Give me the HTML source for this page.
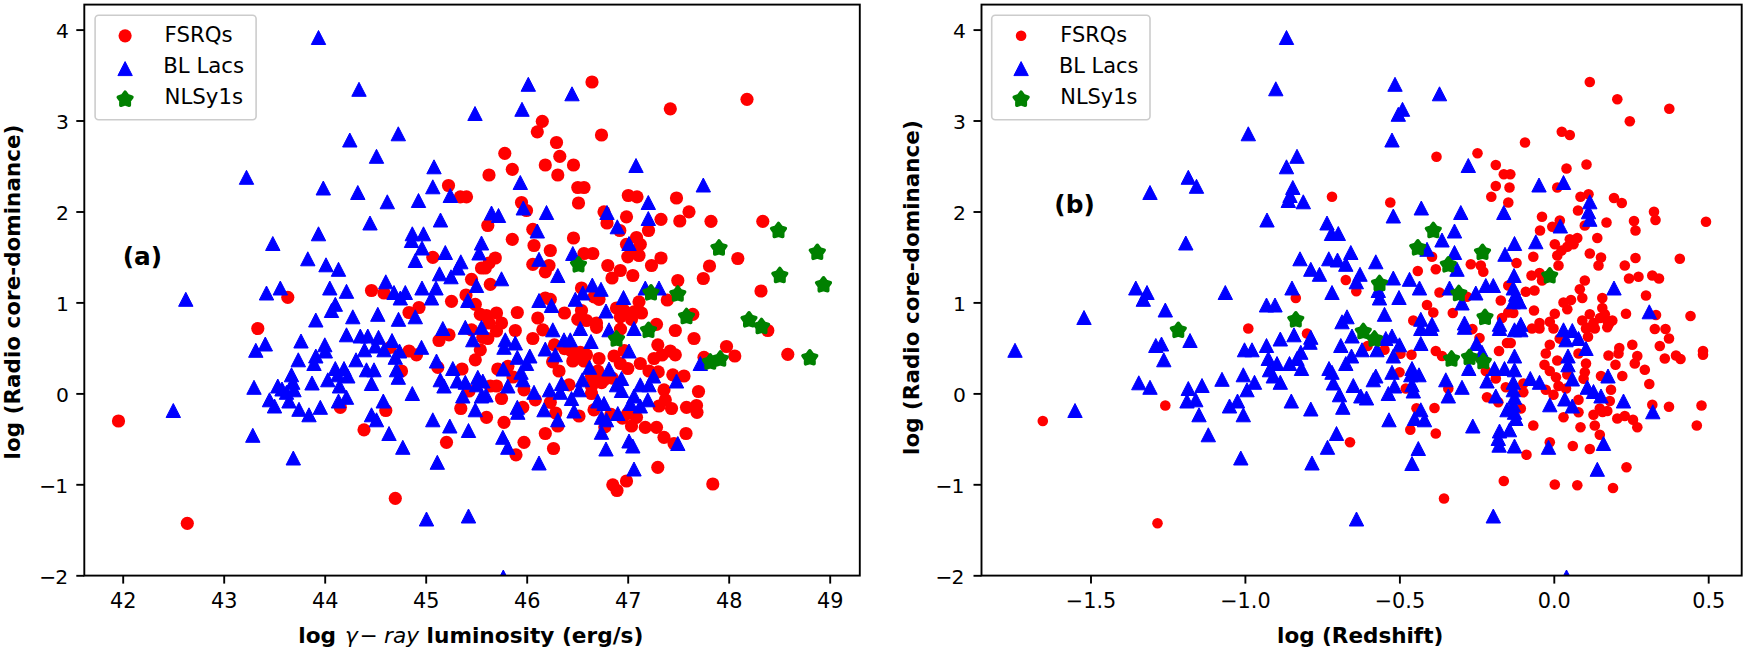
<!DOCTYPE html>
<html lang="en"><head><meta charset="utf-8"><title>Radio core-dominance</title>
<style>html,body{margin:0;padding:0;background:#fff}body{width:1746px;height:652px;overflow:hidden}svg{display:block}text{font-family:'DejaVu Sans','Liberation Sans',sans-serif;fill:#000}</style>
</head><body>
<svg width="1746" height="652" viewBox="0 0 1746 652">
<rect width="1746" height="652" fill="#fff"/>
<clipPath id="ca"><rect x="84.3" y="4.6" width="775.5" height="571.0"/></clipPath>
<g clip-path="url(#ca)">
<circle cx="257.8" cy="328.5" r="6.6" fill="#ff0000"/>
<circle cx="118.5" cy="421.0" r="6.6" fill="#ff0000"/>
<circle cx="187.3" cy="523.3" r="6.6" fill="#ff0000"/>
<circle cx="287.8" cy="297.3" r="6.6" fill="#ff0000"/>
<circle cx="448.5" cy="185.5" r="6.6" fill="#ff0000"/>
<circle cx="460.3" cy="196.8" r="6.6" fill="#ff0000"/>
<circle cx="466.5" cy="196.8" r="6.6" fill="#ff0000"/>
<circle cx="432.8" cy="257.3" r="6.6" fill="#ff0000"/>
<circle cx="481.5" cy="268.0" r="6.6" fill="#ff0000"/>
<circle cx="471.5" cy="279.3" r="6.6" fill="#ff0000"/>
<circle cx="371.5" cy="290.5" r="6.6" fill="#ff0000"/>
<circle cx="384.0" cy="293.0" r="6.6" fill="#ff0000"/>
<circle cx="451.5" cy="301.3" r="6.6" fill="#ff0000"/>
<circle cx="466.0" cy="295.0" r="6.6" fill="#ff0000"/>
<circle cx="475.3" cy="304.3" r="6.6" fill="#ff0000"/>
<circle cx="419.0" cy="307.5" r="6.6" fill="#ff0000"/>
<circle cx="409.0" cy="312.5" r="6.6" fill="#ff0000"/>
<circle cx="480.3" cy="314.3" r="6.6" fill="#ff0000"/>
<circle cx="449.0" cy="334.8" r="6.6" fill="#ff0000"/>
<circle cx="439.0" cy="340.5" r="6.6" fill="#ff0000"/>
<circle cx="471.5" cy="329.8" r="6.6" fill="#ff0000"/>
<circle cx="482.8" cy="337.3" r="6.6" fill="#ff0000"/>
<circle cx="480.3" cy="349.8" r="6.6" fill="#ff0000"/>
<circle cx="475.3" cy="359.8" r="6.6" fill="#ff0000"/>
<circle cx="409.0" cy="351.0" r="6.6" fill="#ff0000"/>
<circle cx="416.5" cy="354.8" r="6.6" fill="#ff0000"/>
<circle cx="390.3" cy="347.3" r="6.6" fill="#ff0000"/>
<circle cx="401.5" cy="371.0" r="6.6" fill="#ff0000"/>
<circle cx="462.0" cy="369.0" r="6.6" fill="#ff0000"/>
<circle cx="437.8" cy="367.3" r="6.6" fill="#ff0000"/>
<circle cx="469.0" cy="391.0" r="6.6" fill="#ff0000"/>
<circle cx="460.8" cy="408.5" r="6.6" fill="#ff0000"/>
<circle cx="340.3" cy="407.3" r="6.6" fill="#ff0000"/>
<circle cx="385.8" cy="410.5" r="6.6" fill="#ff0000"/>
<circle cx="364.0" cy="429.8" r="6.6" fill="#ff0000"/>
<circle cx="446.5" cy="442.3" r="6.6" fill="#ff0000"/>
<circle cx="395.3" cy="498.3" r="6.6" fill="#ff0000"/>
<circle cx="592.0" cy="82.0" r="6.6" fill="#ff0000"/>
<circle cx="670.3" cy="108.8" r="6.6" fill="#ff0000"/>
<circle cx="542.3" cy="121.3" r="6.6" fill="#ff0000"/>
<circle cx="537.3" cy="131.8" r="6.6" fill="#ff0000"/>
<circle cx="601.5" cy="135.0" r="6.6" fill="#ff0000"/>
<circle cx="556.5" cy="142.5" r="6.6" fill="#ff0000"/>
<circle cx="504.8" cy="153.3" r="6.6" fill="#ff0000"/>
<circle cx="559.8" cy="156.3" r="6.6" fill="#ff0000"/>
<circle cx="489.0" cy="175.0" r="6.6" fill="#ff0000"/>
<circle cx="512.3" cy="169.3" r="6.6" fill="#ff0000"/>
<circle cx="545.3" cy="165.0" r="6.6" fill="#ff0000"/>
<circle cx="573.5" cy="165.0" r="6.6" fill="#ff0000"/>
<circle cx="557.8" cy="175.0" r="6.6" fill="#ff0000"/>
<circle cx="577.8" cy="187.5" r="6.6" fill="#ff0000"/>
<circle cx="584.0" cy="187.5" r="6.6" fill="#ff0000"/>
<circle cx="578.5" cy="203.0" r="6.6" fill="#ff0000"/>
<circle cx="521.5" cy="202.5" r="6.6" fill="#ff0000"/>
<circle cx="526.5" cy="210.5" r="6.6" fill="#ff0000"/>
<circle cx="628.3" cy="195.5" r="6.6" fill="#ff0000"/>
<circle cx="637.0" cy="196.8" r="6.6" fill="#ff0000"/>
<circle cx="676.5" cy="198.0" r="6.6" fill="#ff0000"/>
<circle cx="604.0" cy="211.8" r="6.6" fill="#ff0000"/>
<circle cx="626.5" cy="216.8" r="6.6" fill="#ff0000"/>
<circle cx="607.0" cy="223.0" r="6.6" fill="#ff0000"/>
<circle cx="661.0" cy="219.3" r="6.6" fill="#ff0000"/>
<circle cx="679.8" cy="221.0" r="6.6" fill="#ff0000"/>
<circle cx="648.5" cy="230.5" r="6.6" fill="#ff0000"/>
<circle cx="619.8" cy="230.5" r="6.6" fill="#ff0000"/>
<circle cx="487.8" cy="225.5" r="6.6" fill="#ff0000"/>
<circle cx="532.8" cy="229.3" r="6.6" fill="#ff0000"/>
<circle cx="512.3" cy="239.3" r="6.6" fill="#ff0000"/>
<circle cx="573.5" cy="238.0" r="6.6" fill="#ff0000"/>
<circle cx="636.5" cy="237.5" r="6.6" fill="#ff0000"/>
<circle cx="640.3" cy="244.3" r="6.6" fill="#ff0000"/>
<circle cx="626.5" cy="244.3" r="6.6" fill="#ff0000"/>
<circle cx="534.0" cy="245.5" r="6.6" fill="#ff0000"/>
<circle cx="550.3" cy="250.5" r="6.6" fill="#ff0000"/>
<circle cx="636.5" cy="250.5" r="6.6" fill="#ff0000"/>
<circle cx="584.0" cy="253.5" r="6.6" fill="#ff0000"/>
<circle cx="592.8" cy="253.5" r="6.6" fill="#ff0000"/>
<circle cx="627.8" cy="256.8" r="6.6" fill="#ff0000"/>
<circle cx="639.0" cy="255.5" r="6.6" fill="#ff0000"/>
<circle cx="661.0" cy="258.0" r="6.6" fill="#ff0000"/>
<circle cx="495.3" cy="258.0" r="6.6" fill="#ff0000"/>
<circle cx="489.0" cy="263.0" r="6.6" fill="#ff0000"/>
<circle cx="485.3" cy="268.0" r="6.6" fill="#ff0000"/>
<circle cx="532.8" cy="264.3" r="6.6" fill="#ff0000"/>
<circle cx="549.0" cy="265.5" r="6.6" fill="#ff0000"/>
<circle cx="545.3" cy="271.8" r="6.6" fill="#ff0000"/>
<circle cx="651.5" cy="265.5" r="6.6" fill="#ff0000"/>
<circle cx="607.8" cy="265.5" r="6.6" fill="#ff0000"/>
<circle cx="620.3" cy="270.5" r="6.6" fill="#ff0000"/>
<circle cx="612.0" cy="278.0" r="6.6" fill="#ff0000"/>
<circle cx="632.8" cy="275.5" r="6.6" fill="#ff0000"/>
<circle cx="677.8" cy="280.5" r="6.6" fill="#ff0000"/>
<circle cx="490.3" cy="284.3" r="6.6" fill="#ff0000"/>
<circle cx="581.5" cy="288.0" r="6.6" fill="#ff0000"/>
<circle cx="594.0" cy="296.8" r="6.6" fill="#ff0000"/>
<circle cx="599.0" cy="299.3" r="6.6" fill="#ff0000"/>
<circle cx="545.3" cy="298.0" r="6.6" fill="#ff0000"/>
<circle cx="550.3" cy="299.3" r="6.6" fill="#ff0000"/>
<circle cx="639.0" cy="301.8" r="6.6" fill="#ff0000"/>
<circle cx="667.3" cy="300.0" r="6.6" fill="#ff0000"/>
<circle cx="616.5" cy="308.0" r="6.6" fill="#ff0000"/>
<circle cx="624.0" cy="310.5" r="6.6" fill="#ff0000"/>
<circle cx="634.0" cy="311.8" r="6.6" fill="#ff0000"/>
<circle cx="641.5" cy="313.0" r="6.6" fill="#ff0000"/>
<circle cx="620.3" cy="316.8" r="6.6" fill="#ff0000"/>
<circle cx="631.5" cy="319.3" r="6.6" fill="#ff0000"/>
<circle cx="496.5" cy="313.0" r="6.6" fill="#ff0000"/>
<circle cx="517.3" cy="312.5" r="6.6" fill="#ff0000"/>
<circle cx="486.5" cy="315.5" r="6.6" fill="#ff0000"/>
<circle cx="537.8" cy="318.0" r="6.6" fill="#ff0000"/>
<circle cx="564.5" cy="313.0" r="6.6" fill="#ff0000"/>
<circle cx="581.5" cy="310.5" r="6.6" fill="#ff0000"/>
<circle cx="577.8" cy="319.3" r="6.6" fill="#ff0000"/>
<circle cx="586.5" cy="320.5" r="6.6" fill="#ff0000"/>
<circle cx="596.5" cy="323.0" r="6.6" fill="#ff0000"/>
<circle cx="501.5" cy="323.0" r="6.6" fill="#ff0000"/>
<circle cx="489.0" cy="323.0" r="6.6" fill="#ff0000"/>
<circle cx="656.5" cy="324.3" r="6.6" fill="#ff0000"/>
<circle cx="487.8" cy="338.5" r="6.6" fill="#ff0000"/>
<circle cx="496.5" cy="331.0" r="6.6" fill="#ff0000"/>
<circle cx="515.3" cy="330.5" r="6.6" fill="#ff0000"/>
<circle cx="532.8" cy="338.5" r="6.6" fill="#ff0000"/>
<circle cx="542.8" cy="329.8" r="6.6" fill="#ff0000"/>
<circle cx="596.5" cy="327.3" r="6.6" fill="#ff0000"/>
<circle cx="675.3" cy="330.5" r="6.6" fill="#ff0000"/>
<circle cx="657.8" cy="344.8" r="6.6" fill="#ff0000"/>
<circle cx="670.3" cy="351.0" r="6.6" fill="#ff0000"/>
<circle cx="675.3" cy="354.8" r="6.6" fill="#ff0000"/>
<circle cx="654.0" cy="358.5" r="6.6" fill="#ff0000"/>
<circle cx="640.3" cy="363.5" r="6.6" fill="#ff0000"/>
<circle cx="614.0" cy="356.0" r="6.6" fill="#ff0000"/>
<circle cx="620.3" cy="363.5" r="6.6" fill="#ff0000"/>
<circle cx="627.8" cy="368.5" r="6.6" fill="#ff0000"/>
<circle cx="599.0" cy="358.5" r="6.6" fill="#ff0000"/>
<circle cx="571.5" cy="351.0" r="6.6" fill="#ff0000"/>
<circle cx="580.3" cy="352.3" r="6.6" fill="#ff0000"/>
<circle cx="586.5" cy="354.8" r="6.6" fill="#ff0000"/>
<circle cx="572.8" cy="361.0" r="6.6" fill="#ff0000"/>
<circle cx="584.0" cy="361.0" r="6.6" fill="#ff0000"/>
<circle cx="559.0" cy="371.0" r="6.6" fill="#ff0000"/>
<circle cx="497.8" cy="369.0" r="6.6" fill="#ff0000"/>
<circle cx="649.0" cy="371.0" r="6.6" fill="#ff0000"/>
<circle cx="672.8" cy="374.8" r="6.6" fill="#ff0000"/>
<circle cx="597.8" cy="371.0" r="6.6" fill="#ff0000"/>
<circle cx="596.5" cy="379.8" r="6.6" fill="#ff0000"/>
<circle cx="604.0" cy="379.8" r="6.6" fill="#ff0000"/>
<circle cx="591.5" cy="386.0" r="6.6" fill="#ff0000"/>
<circle cx="569.0" cy="384.8" r="6.6" fill="#ff0000"/>
<circle cx="496.5" cy="386.0" r="6.6" fill="#ff0000"/>
<circle cx="490.3" cy="386.0" r="6.6" fill="#ff0000"/>
<circle cx="524.0" cy="389.8" r="6.6" fill="#ff0000"/>
<circle cx="501.5" cy="398.5" r="6.6" fill="#ff0000"/>
<circle cx="591.5" cy="393.5" r="6.6" fill="#ff0000"/>
<circle cx="664.0" cy="389.8" r="6.6" fill="#ff0000"/>
<circle cx="665.3" cy="399.8" r="6.6" fill="#ff0000"/>
<circle cx="659.0" cy="406.0" r="6.6" fill="#ff0000"/>
<circle cx="671.5" cy="408.5" r="6.6" fill="#ff0000"/>
<circle cx="535.3" cy="399.8" r="6.6" fill="#ff0000"/>
<circle cx="550.3" cy="402.3" r="6.6" fill="#ff0000"/>
<circle cx="522.8" cy="407.3" r="6.6" fill="#ff0000"/>
<circle cx="486.5" cy="417.3" r="6.6" fill="#ff0000"/>
<circle cx="504.0" cy="422.3" r="6.6" fill="#ff0000"/>
<circle cx="579.0" cy="416.0" r="6.6" fill="#ff0000"/>
<circle cx="594.0" cy="409.8" r="6.6" fill="#ff0000"/>
<circle cx="627.8" cy="413.5" r="6.6" fill="#ff0000"/>
<circle cx="636.5" cy="417.3" r="6.6" fill="#ff0000"/>
<circle cx="631.5" cy="426.0" r="6.6" fill="#ff0000"/>
<circle cx="645.3" cy="427.3" r="6.6" fill="#ff0000"/>
<circle cx="656.5" cy="427.3" r="6.6" fill="#ff0000"/>
<circle cx="664.0" cy="437.3" r="6.6" fill="#ff0000"/>
<circle cx="674.0" cy="443.5" r="6.6" fill="#ff0000"/>
<circle cx="557.8" cy="426.0" r="6.6" fill="#ff0000"/>
<circle cx="545.3" cy="433.5" r="6.6" fill="#ff0000"/>
<circle cx="524.0" cy="442.3" r="6.6" fill="#ff0000"/>
<circle cx="553.5" cy="448.5" r="6.6" fill="#ff0000"/>
<circle cx="516.0" cy="454.8" r="6.6" fill="#ff0000"/>
<circle cx="657.8" cy="467.3" r="6.6" fill="#ff0000"/>
<circle cx="626.5" cy="481.0" r="6.6" fill="#ff0000"/>
<circle cx="612.8" cy="484.8" r="6.6" fill="#ff0000"/>
<circle cx="617.0" cy="490.5" r="6.6" fill="#ff0000"/>
<circle cx="747.0" cy="99.3" r="6.6" fill="#ff0000"/>
<circle cx="689.0" cy="211.8" r="6.6" fill="#ff0000"/>
<circle cx="711.0" cy="221.3" r="6.6" fill="#ff0000"/>
<circle cx="762.8" cy="221.3" r="6.6" fill="#ff0000"/>
<circle cx="737.8" cy="258.5" r="6.6" fill="#ff0000"/>
<circle cx="709.5" cy="266.0" r="6.6" fill="#ff0000"/>
<circle cx="703.3" cy="278.5" r="6.6" fill="#ff0000"/>
<circle cx="761.0" cy="291.0" r="6.6" fill="#ff0000"/>
<circle cx="692.8" cy="314.3" r="6.6" fill="#ff0000"/>
<circle cx="694.0" cy="338.5" r="6.6" fill="#ff0000"/>
<circle cx="726.5" cy="346.5" r="6.6" fill="#ff0000"/>
<circle cx="734.8" cy="356.0" r="6.6" fill="#ff0000"/>
<circle cx="767.8" cy="330.5" r="6.6" fill="#ff0000"/>
<circle cx="787.8" cy="354.3" r="6.6" fill="#ff0000"/>
<circle cx="704.0" cy="357.3" r="6.6" fill="#ff0000"/>
<circle cx="684.0" cy="376.0" r="6.6" fill="#ff0000"/>
<circle cx="698.5" cy="391.5" r="6.6" fill="#ff0000"/>
<circle cx="696.5" cy="405.5" r="6.6" fill="#ff0000"/>
<circle cx="697.0" cy="412.3" r="6.6" fill="#ff0000"/>
<circle cx="686.5" cy="407.3" r="6.6" fill="#ff0000"/>
<circle cx="686.0" cy="433.5" r="6.6" fill="#ff0000"/>
<circle cx="712.8" cy="484.0" r="6.6" fill="#ff0000"/>
<circle cx="554.4" cy="344.9" r="6.6" fill="#ff0000"/>
<circle cx="564.5" cy="348.6" r="6.6" fill="#ff0000"/>
<circle cx="507.9" cy="366.3" r="6.6" fill="#ff0000"/>
<circle cx="552.6" cy="361.8" r="6.6" fill="#ff0000"/>
<circle cx="513.0" cy="377.0" r="6.6" fill="#ff0000"/>
<circle cx="620.5" cy="329.1" r="6.6" fill="#ff0000"/>
<circle cx="624.3" cy="350.5" r="6.6" fill="#ff0000"/>
<circle cx="662.0" cy="355.0" r="6.6" fill="#ff0000"/>
<circle cx="658.2" cy="371.9" r="6.6" fill="#ff0000"/>
<circle cx="601.6" cy="382.6" r="6.6" fill="#ff0000"/>
<circle cx="591.5" cy="376.3" r="6.6" fill="#ff0000"/>
<circle cx="612.3" cy="378.2" r="6.6" fill="#ff0000"/>
<circle cx="555.7" cy="413.0" r="6.6" fill="#ff0000"/>
<circle cx="604.8" cy="426.9" r="6.6" fill="#ff0000"/>
<circle cx="622.4" cy="418.1" r="6.6" fill="#ff0000"/>
<circle cx="611.0" cy="414.3" r="6.6" fill="#ff0000"/>
<path d="M318.5 30.5L325.7 44.5L311.3 44.5Z" fill="#0000ff" stroke="#0000ff" stroke-width="1" stroke-linejoin="round"/>
<path d="M359.0 82.3L366.2 96.3L351.8 96.3Z" fill="#0000ff" stroke="#0000ff" stroke-width="1" stroke-linejoin="round"/>
<path d="M475.0 106.5L482.2 120.5L467.8 120.5Z" fill="#0000ff" stroke="#0000ff" stroke-width="1" stroke-linejoin="round"/>
<path d="M398.3 126.8L405.5 140.8L391.1 140.8Z" fill="#0000ff" stroke="#0000ff" stroke-width="1" stroke-linejoin="round"/>
<path d="M349.8 133.0L357.0 147.0L342.6 147.0Z" fill="#0000ff" stroke="#0000ff" stroke-width="1" stroke-linejoin="round"/>
<path d="M376.5 149.3L383.7 163.3L369.3 163.3Z" fill="#0000ff" stroke="#0000ff" stroke-width="1" stroke-linejoin="round"/>
<path d="M246.5 170.3L253.7 184.3L239.3 184.3Z" fill="#0000ff" stroke="#0000ff" stroke-width="1" stroke-linejoin="round"/>
<path d="M272.8 236.5L280.0 250.5L265.6 250.5Z" fill="#0000ff" stroke="#0000ff" stroke-width="1" stroke-linejoin="round"/>
<path d="M185.8 292.3L193.0 306.3L178.6 306.3Z" fill="#0000ff" stroke="#0000ff" stroke-width="1" stroke-linejoin="round"/>
<path d="M266.5 286.0L273.7 300.0L259.3 300.0Z" fill="#0000ff" stroke="#0000ff" stroke-width="1" stroke-linejoin="round"/>
<path d="M280.3 281.0L287.5 295.0L273.1 295.0Z" fill="#0000ff" stroke="#0000ff" stroke-width="1" stroke-linejoin="round"/>
<path d="M265.3 337.0L272.5 351.0L258.1 351.0Z" fill="#0000ff" stroke="#0000ff" stroke-width="1" stroke-linejoin="round"/>
<path d="M255.8 343.3L263.0 357.3L248.6 357.3Z" fill="#0000ff" stroke="#0000ff" stroke-width="1" stroke-linejoin="round"/>
<path d="M254.0 380.3L261.2 394.3L246.8 394.3Z" fill="#0000ff" stroke="#0000ff" stroke-width="1" stroke-linejoin="round"/>
<path d="M277.8 379.0L285.0 393.0L270.6 393.0Z" fill="#0000ff" stroke="#0000ff" stroke-width="1" stroke-linejoin="round"/>
<path d="M282.0 382.0L289.2 396.0L274.8 396.0Z" fill="#0000ff" stroke="#0000ff" stroke-width="1" stroke-linejoin="round"/>
<path d="M269.5 392.8L276.7 406.8L262.3 406.8Z" fill="#0000ff" stroke="#0000ff" stroke-width="1" stroke-linejoin="round"/>
<path d="M274.5 399.0L281.7 413.0L267.3 413.0Z" fill="#0000ff" stroke="#0000ff" stroke-width="1" stroke-linejoin="round"/>
<path d="M173.3 403.5L180.5 417.5L166.1 417.5Z" fill="#0000ff" stroke="#0000ff" stroke-width="1" stroke-linejoin="round"/>
<path d="M252.8 428.3L260.0 442.3L245.6 442.3Z" fill="#0000ff" stroke="#0000ff" stroke-width="1" stroke-linejoin="round"/>
<path d="M434.0 159.8L441.2 173.8L426.8 173.8Z" fill="#0000ff" stroke="#0000ff" stroke-width="1" stroke-linejoin="round"/>
<path d="M323.3 181.0L330.5 195.0L316.1 195.0Z" fill="#0000ff" stroke="#0000ff" stroke-width="1" stroke-linejoin="round"/>
<path d="M357.8 185.5L365.0 199.5L350.6 199.5Z" fill="#0000ff" stroke="#0000ff" stroke-width="1" stroke-linejoin="round"/>
<path d="M432.8 179.8L440.0 193.8L425.6 193.8Z" fill="#0000ff" stroke="#0000ff" stroke-width="1" stroke-linejoin="round"/>
<path d="M387.3 194.8L394.5 208.8L380.1 208.8Z" fill="#0000ff" stroke="#0000ff" stroke-width="1" stroke-linejoin="round"/>
<path d="M418.5 193.5L425.7 207.5L411.3 207.5Z" fill="#0000ff" stroke="#0000ff" stroke-width="1" stroke-linejoin="round"/>
<path d="M450.3 188.5L457.5 202.5L443.1 202.5Z" fill="#0000ff" stroke="#0000ff" stroke-width="1" stroke-linejoin="round"/>
<path d="M370.0 216.0L377.2 230.0L362.8 230.0Z" fill="#0000ff" stroke="#0000ff" stroke-width="1" stroke-linejoin="round"/>
<path d="M440.5 213.0L447.7 227.0L433.3 227.0Z" fill="#0000ff" stroke="#0000ff" stroke-width="1" stroke-linejoin="round"/>
<path d="M318.5 226.8L325.7 240.8L311.3 240.8Z" fill="#0000ff" stroke="#0000ff" stroke-width="1" stroke-linejoin="round"/>
<path d="M412.3 226.8L419.5 240.8L405.1 240.8Z" fill="#0000ff" stroke="#0000ff" stroke-width="1" stroke-linejoin="round"/>
<path d="M423.5 226.8L430.7 240.8L416.3 240.8Z" fill="#0000ff" stroke="#0000ff" stroke-width="1" stroke-linejoin="round"/>
<path d="M411.5 233.5L418.7 247.5L404.3 247.5Z" fill="#0000ff" stroke="#0000ff" stroke-width="1" stroke-linejoin="round"/>
<path d="M422.0 241.0L429.2 255.0L414.8 255.0Z" fill="#0000ff" stroke="#0000ff" stroke-width="1" stroke-linejoin="round"/>
<path d="M445.3 245.5L452.5 259.5L438.1 259.5Z" fill="#0000ff" stroke="#0000ff" stroke-width="1" stroke-linejoin="round"/>
<path d="M307.8 251.8L315.0 265.8L300.6 265.8Z" fill="#0000ff" stroke="#0000ff" stroke-width="1" stroke-linejoin="round"/>
<path d="M415.3 253.5L422.5 267.5L408.1 267.5Z" fill="#0000ff" stroke="#0000ff" stroke-width="1" stroke-linejoin="round"/>
<path d="M326.0 257.8L333.2 271.8L318.8 271.8Z" fill="#0000ff" stroke="#0000ff" stroke-width="1" stroke-linejoin="round"/>
<path d="M338.5 262.3L345.7 276.3L331.3 276.3Z" fill="#0000ff" stroke="#0000ff" stroke-width="1" stroke-linejoin="round"/>
<path d="M460.8 254.8L468.0 268.8L453.6 268.8Z" fill="#0000ff" stroke="#0000ff" stroke-width="1" stroke-linejoin="round"/>
<path d="M457.8 261.0L465.0 275.0L450.6 275.0Z" fill="#0000ff" stroke="#0000ff" stroke-width="1" stroke-linejoin="round"/>
<path d="M439.5 266.8L446.7 280.8L432.3 280.8Z" fill="#0000ff" stroke="#0000ff" stroke-width="1" stroke-linejoin="round"/>
<path d="M451.0 269.8L458.2 283.8L443.8 283.8Z" fill="#0000ff" stroke="#0000ff" stroke-width="1" stroke-linejoin="round"/>
<path d="M481.5 236.0L488.7 250.0L474.3 250.0Z" fill="#0000ff" stroke="#0000ff" stroke-width="1" stroke-linejoin="round"/>
<path d="M479.0 246.0L486.2 260.0L471.8 260.0Z" fill="#0000ff" stroke="#0000ff" stroke-width="1" stroke-linejoin="round"/>
<path d="M385.8 274.8L393.0 288.8L378.6 288.8Z" fill="#0000ff" stroke="#0000ff" stroke-width="1" stroke-linejoin="round"/>
<path d="M329.8 281.0L337.0 295.0L322.6 295.0Z" fill="#0000ff" stroke="#0000ff" stroke-width="1" stroke-linejoin="round"/>
<path d="M346.5 284.3L353.7 298.3L339.3 298.3Z" fill="#0000ff" stroke="#0000ff" stroke-width="1" stroke-linejoin="round"/>
<path d="M422.0 281.0L429.2 295.0L414.8 295.0Z" fill="#0000ff" stroke="#0000ff" stroke-width="1" stroke-linejoin="round"/>
<path d="M436.0 281.0L443.2 295.0L428.8 295.0Z" fill="#0000ff" stroke="#0000ff" stroke-width="1" stroke-linejoin="round"/>
<path d="M394.0 285.5L401.2 299.5L386.8 299.5Z" fill="#0000ff" stroke="#0000ff" stroke-width="1" stroke-linejoin="round"/>
<path d="M405.3 285.5L412.5 299.5L398.1 299.5Z" fill="#0000ff" stroke="#0000ff" stroke-width="1" stroke-linejoin="round"/>
<path d="M400.3 291.0L407.5 305.0L393.1 305.0Z" fill="#0000ff" stroke="#0000ff" stroke-width="1" stroke-linejoin="round"/>
<path d="M431.5 291.0L438.7 305.0L424.3 305.0Z" fill="#0000ff" stroke="#0000ff" stroke-width="1" stroke-linejoin="round"/>
<path d="M476.5 278.5L483.7 292.5L469.3 292.5Z" fill="#0000ff" stroke="#0000ff" stroke-width="1" stroke-linejoin="round"/>
<path d="M467.8 293.5L475.0 307.5L460.6 307.5Z" fill="#0000ff" stroke="#0000ff" stroke-width="1" stroke-linejoin="round"/>
<path d="M335.3 297.3L342.5 311.3L328.1 311.3Z" fill="#0000ff" stroke="#0000ff" stroke-width="1" stroke-linejoin="round"/>
<path d="M331.5 303.5L338.7 317.5L324.3 317.5Z" fill="#0000ff" stroke="#0000ff" stroke-width="1" stroke-linejoin="round"/>
<path d="M352.8 309.8L360.0 323.8L345.6 323.8Z" fill="#0000ff" stroke="#0000ff" stroke-width="1" stroke-linejoin="round"/>
<path d="M377.8 307.3L385.0 321.3L370.6 321.3Z" fill="#0000ff" stroke="#0000ff" stroke-width="1" stroke-linejoin="round"/>
<path d="M315.8 313.0L323.0 327.0L308.6 327.0Z" fill="#0000ff" stroke="#0000ff" stroke-width="1" stroke-linejoin="round"/>
<path d="M398.5 312.3L405.7 326.3L391.3 326.3Z" fill="#0000ff" stroke="#0000ff" stroke-width="1" stroke-linejoin="round"/>
<path d="M415.3 309.8L422.5 323.8L408.1 323.8Z" fill="#0000ff" stroke="#0000ff" stroke-width="1" stroke-linejoin="round"/>
<path d="M301.0 334.0L308.2 348.0L293.8 348.0Z" fill="#0000ff" stroke="#0000ff" stroke-width="1" stroke-linejoin="round"/>
<path d="M346.5 327.8L353.7 341.8L339.3 341.8Z" fill="#0000ff" stroke="#0000ff" stroke-width="1" stroke-linejoin="round"/>
<path d="M360.3 329.0L367.5 343.0L353.1 343.0Z" fill="#0000ff" stroke="#0000ff" stroke-width="1" stroke-linejoin="round"/>
<path d="M367.8 329.0L375.0 343.0L360.6 343.0Z" fill="#0000ff" stroke="#0000ff" stroke-width="1" stroke-linejoin="round"/>
<path d="M378.5 330.3L385.7 344.3L371.3 344.3Z" fill="#0000ff" stroke="#0000ff" stroke-width="1" stroke-linejoin="round"/>
<path d="M392.0 333.5L399.2 347.5L384.8 347.5Z" fill="#0000ff" stroke="#0000ff" stroke-width="1" stroke-linejoin="round"/>
<path d="M442.8 321.5L450.0 335.5L435.6 335.5Z" fill="#0000ff" stroke="#0000ff" stroke-width="1" stroke-linejoin="round"/>
<path d="M465.3 320.3L472.5 334.3L458.1 334.3Z" fill="#0000ff" stroke="#0000ff" stroke-width="1" stroke-linejoin="round"/>
<path d="M481.5 320.3L488.7 334.3L474.3 334.3Z" fill="#0000ff" stroke="#0000ff" stroke-width="1" stroke-linejoin="round"/>
<path d="M472.8 332.8L480.0 346.8L465.6 346.8Z" fill="#0000ff" stroke="#0000ff" stroke-width="1" stroke-linejoin="round"/>
<path d="M421.5 340.3L428.7 354.3L414.3 354.3Z" fill="#0000ff" stroke="#0000ff" stroke-width="1" stroke-linejoin="round"/>
<path d="M324.8 337.8L332.0 351.8L317.6 351.8Z" fill="#0000ff" stroke="#0000ff" stroke-width="1" stroke-linejoin="round"/>
<path d="M325.3 344.0L332.5 358.0L318.1 358.0Z" fill="#0000ff" stroke="#0000ff" stroke-width="1" stroke-linejoin="round"/>
<path d="M364.5 342.8L371.7 356.8L357.3 356.8Z" fill="#0000ff" stroke="#0000ff" stroke-width="1" stroke-linejoin="round"/>
<path d="M375.3 339.0L382.5 353.0L368.1 353.0Z" fill="#0000ff" stroke="#0000ff" stroke-width="1" stroke-linejoin="round"/>
<path d="M384.0 342.8L391.2 356.8L376.8 356.8Z" fill="#0000ff" stroke="#0000ff" stroke-width="1" stroke-linejoin="round"/>
<path d="M399.5 344.0L406.7 358.0L392.3 358.0Z" fill="#0000ff" stroke="#0000ff" stroke-width="1" stroke-linejoin="round"/>
<path d="M395.3 350.3L402.5 364.3L388.1 364.3Z" fill="#0000ff" stroke="#0000ff" stroke-width="1" stroke-linejoin="round"/>
<path d="M315.8 349.0L323.0 363.0L308.6 363.0Z" fill="#0000ff" stroke="#0000ff" stroke-width="1" stroke-linejoin="round"/>
<path d="M314.0 356.5L321.2 370.5L306.8 370.5Z" fill="#0000ff" stroke="#0000ff" stroke-width="1" stroke-linejoin="round"/>
<path d="M298.3 352.8L305.5 366.8L291.1 366.8Z" fill="#0000ff" stroke="#0000ff" stroke-width="1" stroke-linejoin="round"/>
<path d="M356.0 352.8L363.2 366.8L348.8 366.8Z" fill="#0000ff" stroke="#0000ff" stroke-width="1" stroke-linejoin="round"/>
<path d="M436.5 354.0L443.7 368.0L429.3 368.0Z" fill="#0000ff" stroke="#0000ff" stroke-width="1" stroke-linejoin="round"/>
<path d="M291.5 367.8L298.7 381.8L284.3 381.8Z" fill="#0000ff" stroke="#0000ff" stroke-width="1" stroke-linejoin="round"/>
<path d="M292.8 375.3L300.0 389.3L285.6 389.3Z" fill="#0000ff" stroke="#0000ff" stroke-width="1" stroke-linejoin="round"/>
<path d="M294.0 382.8L301.2 396.8L286.8 396.8Z" fill="#0000ff" stroke="#0000ff" stroke-width="1" stroke-linejoin="round"/>
<path d="M286.5 385.3L293.7 399.3L279.3 399.3Z" fill="#0000ff" stroke="#0000ff" stroke-width="1" stroke-linejoin="round"/>
<path d="M289.0 394.0L296.2 408.0L281.8 408.0Z" fill="#0000ff" stroke="#0000ff" stroke-width="1" stroke-linejoin="round"/>
<path d="M312.0 376.0L319.2 390.0L304.8 390.0Z" fill="#0000ff" stroke="#0000ff" stroke-width="1" stroke-linejoin="round"/>
<path d="M327.8 372.8L335.0 386.8L320.6 386.8Z" fill="#0000ff" stroke="#0000ff" stroke-width="1" stroke-linejoin="round"/>
<path d="M335.3 361.5L342.5 375.5L328.1 375.5Z" fill="#0000ff" stroke="#0000ff" stroke-width="1" stroke-linejoin="round"/>
<path d="M344.0 361.5L351.2 375.5L336.8 375.5Z" fill="#0000ff" stroke="#0000ff" stroke-width="1" stroke-linejoin="round"/>
<path d="M337.8 367.8L345.0 381.8L330.6 381.8Z" fill="#0000ff" stroke="#0000ff" stroke-width="1" stroke-linejoin="round"/>
<path d="M347.8 369.0L355.0 383.0L340.6 383.0Z" fill="#0000ff" stroke="#0000ff" stroke-width="1" stroke-linejoin="round"/>
<path d="M339.5 379.0L346.7 393.0L332.3 393.0Z" fill="#0000ff" stroke="#0000ff" stroke-width="1" stroke-linejoin="round"/>
<path d="M366.5 362.8L373.7 376.8L359.3 376.8Z" fill="#0000ff" stroke="#0000ff" stroke-width="1" stroke-linejoin="round"/>
<path d="M374.0 362.8L381.2 376.8L366.8 376.8Z" fill="#0000ff" stroke="#0000ff" stroke-width="1" stroke-linejoin="round"/>
<path d="M371.5 376.5L378.7 390.5L364.3 390.5Z" fill="#0000ff" stroke="#0000ff" stroke-width="1" stroke-linejoin="round"/>
<path d="M396.5 362.8L403.7 376.8L389.3 376.8Z" fill="#0000ff" stroke="#0000ff" stroke-width="1" stroke-linejoin="round"/>
<path d="M398.3 370.3L405.5 384.3L391.1 384.3Z" fill="#0000ff" stroke="#0000ff" stroke-width="1" stroke-linejoin="round"/>
<path d="M452.8 361.5L460.0 375.5L445.6 375.5Z" fill="#0000ff" stroke="#0000ff" stroke-width="1" stroke-linejoin="round"/>
<path d="M440.3 372.8L447.5 386.8L433.1 386.8Z" fill="#0000ff" stroke="#0000ff" stroke-width="1" stroke-linejoin="round"/>
<path d="M444.0 379.0L451.2 393.0L436.8 393.0Z" fill="#0000ff" stroke="#0000ff" stroke-width="1" stroke-linejoin="round"/>
<path d="M457.3 374.0L464.5 388.0L450.1 388.0Z" fill="#0000ff" stroke="#0000ff" stroke-width="1" stroke-linejoin="round"/>
<path d="M465.3 375.3L472.5 389.3L458.1 389.3Z" fill="#0000ff" stroke="#0000ff" stroke-width="1" stroke-linejoin="round"/>
<path d="M477.8 370.3L485.0 384.3L470.6 384.3Z" fill="#0000ff" stroke="#0000ff" stroke-width="1" stroke-linejoin="round"/>
<path d="M476.5 377.8L483.7 391.8L469.3 391.8Z" fill="#0000ff" stroke="#0000ff" stroke-width="1" stroke-linejoin="round"/>
<path d="M482.8 374.0L490.0 388.0L475.6 388.0Z" fill="#0000ff" stroke="#0000ff" stroke-width="1" stroke-linejoin="round"/>
<path d="M412.3 386.5L419.5 400.5L405.1 400.5Z" fill="#0000ff" stroke="#0000ff" stroke-width="1" stroke-linejoin="round"/>
<path d="M462.8 389.0L470.0 403.0L455.6 403.0Z" fill="#0000ff" stroke="#0000ff" stroke-width="1" stroke-linejoin="round"/>
<path d="M481.5 389.0L488.7 403.0L474.3 403.0Z" fill="#0000ff" stroke="#0000ff" stroke-width="1" stroke-linejoin="round"/>
<path d="M346.5 390.3L353.7 404.3L339.3 404.3Z" fill="#0000ff" stroke="#0000ff" stroke-width="1" stroke-linejoin="round"/>
<path d="M338.5 394.0L345.7 408.0L331.3 408.0Z" fill="#0000ff" stroke="#0000ff" stroke-width="1" stroke-linejoin="round"/>
<path d="M383.3 394.0L390.5 408.0L376.1 408.0Z" fill="#0000ff" stroke="#0000ff" stroke-width="1" stroke-linejoin="round"/>
<path d="M320.3 400.3L327.5 414.3L313.1 414.3Z" fill="#0000ff" stroke="#0000ff" stroke-width="1" stroke-linejoin="round"/>
<path d="M299.0 402.3L306.2 416.3L291.8 416.3Z" fill="#0000ff" stroke="#0000ff" stroke-width="1" stroke-linejoin="round"/>
<path d="M309.0 407.8L316.2 421.8L301.8 421.8Z" fill="#0000ff" stroke="#0000ff" stroke-width="1" stroke-linejoin="round"/>
<path d="M371.5 407.8L378.7 421.8L364.3 421.8Z" fill="#0000ff" stroke="#0000ff" stroke-width="1" stroke-linejoin="round"/>
<path d="M376.5 412.8L383.7 426.8L369.3 426.8Z" fill="#0000ff" stroke="#0000ff" stroke-width="1" stroke-linejoin="round"/>
<path d="M475.3 402.8L482.5 416.8L468.1 416.8Z" fill="#0000ff" stroke="#0000ff" stroke-width="1" stroke-linejoin="round"/>
<path d="M432.8 412.8L440.0 426.8L425.6 426.8Z" fill="#0000ff" stroke="#0000ff" stroke-width="1" stroke-linejoin="round"/>
<path d="M449.8 419.0L457.0 433.0L442.6 433.0Z" fill="#0000ff" stroke="#0000ff" stroke-width="1" stroke-linejoin="round"/>
<path d="M468.5 423.5L475.7 437.5L461.3 437.5Z" fill="#0000ff" stroke="#0000ff" stroke-width="1" stroke-linejoin="round"/>
<path d="M389.0 426.5L396.2 440.5L381.8 440.5Z" fill="#0000ff" stroke="#0000ff" stroke-width="1" stroke-linejoin="round"/>
<path d="M402.8 440.3L410.0 454.3L395.6 454.3Z" fill="#0000ff" stroke="#0000ff" stroke-width="1" stroke-linejoin="round"/>
<path d="M293.3 451.0L300.5 465.0L286.1 465.0Z" fill="#0000ff" stroke="#0000ff" stroke-width="1" stroke-linejoin="round"/>
<path d="M437.3 455.3L444.5 469.3L430.1 469.3Z" fill="#0000ff" stroke="#0000ff" stroke-width="1" stroke-linejoin="round"/>
<path d="M426.5 512.0L433.7 526.0L419.3 526.0Z" fill="#0000ff" stroke="#0000ff" stroke-width="1" stroke-linejoin="round"/>
<path d="M468.5 509.0L475.7 523.0L461.3 523.0Z" fill="#0000ff" stroke="#0000ff" stroke-width="1" stroke-linejoin="round"/>
<path d="M528.3 77.3L535.5 91.3L521.1 91.3Z" fill="#0000ff" stroke="#0000ff" stroke-width="1" stroke-linejoin="round"/>
<path d="M572.0 86.8L579.2 100.8L564.8 100.8Z" fill="#0000ff" stroke="#0000ff" stroke-width="1" stroke-linejoin="round"/>
<path d="M522.0 102.3L529.2 116.3L514.8 116.3Z" fill="#0000ff" stroke="#0000ff" stroke-width="1" stroke-linejoin="round"/>
<path d="M636.0 158.5L643.2 172.5L628.8 172.5Z" fill="#0000ff" stroke="#0000ff" stroke-width="1" stroke-linejoin="round"/>
<path d="M520.3 175.5L527.5 189.5L513.1 189.5Z" fill="#0000ff" stroke="#0000ff" stroke-width="1" stroke-linejoin="round"/>
<path d="M523.3 201.0L530.5 215.0L516.1 215.0Z" fill="#0000ff" stroke="#0000ff" stroke-width="1" stroke-linejoin="round"/>
<path d="M546.5 205.5L553.7 219.5L539.3 219.5Z" fill="#0000ff" stroke="#0000ff" stroke-width="1" stroke-linejoin="round"/>
<path d="M491.5 206.0L498.7 220.0L484.3 220.0Z" fill="#0000ff" stroke="#0000ff" stroke-width="1" stroke-linejoin="round"/>
<path d="M498.5 208.5L505.7 222.5L491.3 222.5Z" fill="#0000ff" stroke="#0000ff" stroke-width="1" stroke-linejoin="round"/>
<path d="M648.3 195.5L655.5 209.5L641.1 209.5Z" fill="#0000ff" stroke="#0000ff" stroke-width="1" stroke-linejoin="round"/>
<path d="M648.3 211.5L655.5 225.5L641.1 225.5Z" fill="#0000ff" stroke="#0000ff" stroke-width="1" stroke-linejoin="round"/>
<path d="M607.0 205.5L614.2 219.5L599.8 219.5Z" fill="#0000ff" stroke="#0000ff" stroke-width="1" stroke-linejoin="round"/>
<path d="M617.3 219.8L624.5 233.8L610.1 233.8Z" fill="#0000ff" stroke="#0000ff" stroke-width="1" stroke-linejoin="round"/>
<path d="M537.3 224.0L544.5 238.0L530.1 238.0Z" fill="#0000ff" stroke="#0000ff" stroke-width="1" stroke-linejoin="round"/>
<path d="M629.0 236.5L636.2 250.5L621.8 250.5Z" fill="#0000ff" stroke="#0000ff" stroke-width="1" stroke-linejoin="round"/>
<path d="M572.8 246.5L580.0 260.5L565.6 260.5Z" fill="#0000ff" stroke="#0000ff" stroke-width="1" stroke-linejoin="round"/>
<path d="M539.0 252.3L546.2 266.3L531.8 266.3Z" fill="#0000ff" stroke="#0000ff" stroke-width="1" stroke-linejoin="round"/>
<path d="M557.8 268.5L565.0 282.5L550.6 282.5Z" fill="#0000ff" stroke="#0000ff" stroke-width="1" stroke-linejoin="round"/>
<path d="M501.5 271.8L508.7 285.8L494.3 285.8Z" fill="#0000ff" stroke="#0000ff" stroke-width="1" stroke-linejoin="round"/>
<path d="M592.3 278.0L599.5 292.0L585.1 292.0Z" fill="#0000ff" stroke="#0000ff" stroke-width="1" stroke-linejoin="round"/>
<path d="M601.0 282.3L608.2 296.3L593.8 296.3Z" fill="#0000ff" stroke="#0000ff" stroke-width="1" stroke-linejoin="round"/>
<path d="M582.8 286.0L590.0 300.0L575.6 300.0Z" fill="#0000ff" stroke="#0000ff" stroke-width="1" stroke-linejoin="round"/>
<path d="M575.3 292.3L582.5 306.3L568.1 306.3Z" fill="#0000ff" stroke="#0000ff" stroke-width="1" stroke-linejoin="round"/>
<path d="M623.5 290.5L630.7 304.5L616.3 304.5Z" fill="#0000ff" stroke="#0000ff" stroke-width="1" stroke-linejoin="round"/>
<path d="M539.0 293.5L546.2 307.5L531.8 307.5Z" fill="#0000ff" stroke="#0000ff" stroke-width="1" stroke-linejoin="round"/>
<path d="M551.5 298.5L558.7 312.5L544.3 312.5Z" fill="#0000ff" stroke="#0000ff" stroke-width="1" stroke-linejoin="round"/>
<path d="M606.0 304.0L613.2 318.0L598.8 318.0Z" fill="#0000ff" stroke="#0000ff" stroke-width="1" stroke-linejoin="round"/>
<path d="M645.3 281.0L652.5 295.0L638.1 295.0Z" fill="#0000ff" stroke="#0000ff" stroke-width="1" stroke-linejoin="round"/>
<path d="M659.0 281.0L666.2 295.0L651.8 295.0Z" fill="#0000ff" stroke="#0000ff" stroke-width="1" stroke-linejoin="round"/>
<path d="M552.8 322.8L560.0 336.8L545.6 336.8Z" fill="#0000ff" stroke="#0000ff" stroke-width="1" stroke-linejoin="round"/>
<path d="M580.3 321.5L587.5 335.5L573.1 335.5Z" fill="#0000ff" stroke="#0000ff" stroke-width="1" stroke-linejoin="round"/>
<path d="M609.0 322.8L616.2 336.8L601.8 336.8Z" fill="#0000ff" stroke="#0000ff" stroke-width="1" stroke-linejoin="round"/>
<path d="M634.0 321.5L641.2 335.5L626.8 335.5Z" fill="#0000ff" stroke="#0000ff" stroke-width="1" stroke-linejoin="round"/>
<path d="M505.3 332.8L512.5 346.8L498.1 346.8Z" fill="#0000ff" stroke="#0000ff" stroke-width="1" stroke-linejoin="round"/>
<path d="M515.3 336.0L522.5 350.0L508.1 350.0Z" fill="#0000ff" stroke="#0000ff" stroke-width="1" stroke-linejoin="round"/>
<path d="M504.0 340.3L511.2 354.3L496.8 354.3Z" fill="#0000ff" stroke="#0000ff" stroke-width="1" stroke-linejoin="round"/>
<path d="M564.0 332.8L571.2 346.8L556.8 346.8Z" fill="#0000ff" stroke="#0000ff" stroke-width="1" stroke-linejoin="round"/>
<path d="M570.3 332.8L577.5 346.8L563.1 346.8Z" fill="#0000ff" stroke="#0000ff" stroke-width="1" stroke-linejoin="round"/>
<path d="M591.0 334.5L598.2 348.5L583.8 348.5Z" fill="#0000ff" stroke="#0000ff" stroke-width="1" stroke-linejoin="round"/>
<path d="M545.3 342.0L552.5 356.0L538.1 356.0Z" fill="#0000ff" stroke="#0000ff" stroke-width="1" stroke-linejoin="round"/>
<path d="M555.3 347.8L562.5 361.8L548.1 361.8Z" fill="#0000ff" stroke="#0000ff" stroke-width="1" stroke-linejoin="round"/>
<path d="M529.8 349.0L537.0 363.0L522.6 363.0Z" fill="#0000ff" stroke="#0000ff" stroke-width="1" stroke-linejoin="round"/>
<path d="M517.3 350.3L524.5 364.3L510.1 364.3Z" fill="#0000ff" stroke="#0000ff" stroke-width="1" stroke-linejoin="round"/>
<path d="M526.5 356.5L533.7 370.5L519.3 370.5Z" fill="#0000ff" stroke="#0000ff" stroke-width="1" stroke-linejoin="round"/>
<path d="M629.0 344.0L636.2 358.0L621.8 358.0Z" fill="#0000ff" stroke="#0000ff" stroke-width="1" stroke-linejoin="round"/>
<path d="M503.3 362.0L510.5 376.0L496.1 376.0Z" fill="#0000ff" stroke="#0000ff" stroke-width="1" stroke-linejoin="round"/>
<path d="M521.0 365.3L528.2 379.3L513.8 379.3Z" fill="#0000ff" stroke="#0000ff" stroke-width="1" stroke-linejoin="round"/>
<path d="M522.8 372.8L530.0 386.8L515.6 386.8Z" fill="#0000ff" stroke="#0000ff" stroke-width="1" stroke-linejoin="round"/>
<path d="M589.5 360.3L596.7 374.3L582.3 374.3Z" fill="#0000ff" stroke="#0000ff" stroke-width="1" stroke-linejoin="round"/>
<path d="M609.0 362.0L616.2 376.0L601.8 376.0Z" fill="#0000ff" stroke="#0000ff" stroke-width="1" stroke-linejoin="round"/>
<path d="M621.5 371.5L628.7 385.5L614.3 385.5Z" fill="#0000ff" stroke="#0000ff" stroke-width="1" stroke-linejoin="round"/>
<path d="M616.5 377.8L623.7 391.8L609.3 391.8Z" fill="#0000ff" stroke="#0000ff" stroke-width="1" stroke-linejoin="round"/>
<path d="M621.5 383.5L628.7 397.5L614.3 397.5Z" fill="#0000ff" stroke="#0000ff" stroke-width="1" stroke-linejoin="round"/>
<path d="M653.5 369.0L660.7 383.0L646.3 383.0Z" fill="#0000ff" stroke="#0000ff" stroke-width="1" stroke-linejoin="round"/>
<path d="M640.3 377.8L647.5 391.8L633.1 391.8Z" fill="#0000ff" stroke="#0000ff" stroke-width="1" stroke-linejoin="round"/>
<path d="M649.0 377.8L656.2 391.8L641.8 391.8Z" fill="#0000ff" stroke="#0000ff" stroke-width="1" stroke-linejoin="round"/>
<path d="M676.5 374.0L683.7 388.0L669.3 388.0Z" fill="#0000ff" stroke="#0000ff" stroke-width="1" stroke-linejoin="round"/>
<path d="M582.3 372.8L589.5 386.8L575.1 386.8Z" fill="#0000ff" stroke="#0000ff" stroke-width="1" stroke-linejoin="round"/>
<path d="M561.5 376.5L568.7 390.5L554.3 390.5Z" fill="#0000ff" stroke="#0000ff" stroke-width="1" stroke-linejoin="round"/>
<path d="M507.8 379.0L515.0 393.0L500.6 393.0Z" fill="#0000ff" stroke="#0000ff" stroke-width="1" stroke-linejoin="round"/>
<path d="M486.0 388.0L493.2 402.0L478.8 402.0Z" fill="#0000ff" stroke="#0000ff" stroke-width="1" stroke-linejoin="round"/>
<path d="M534.0 385.3L541.2 399.3L526.8 399.3Z" fill="#0000ff" stroke="#0000ff" stroke-width="1" stroke-linejoin="round"/>
<path d="M549.5 382.8L556.7 396.8L542.3 396.8Z" fill="#0000ff" stroke="#0000ff" stroke-width="1" stroke-linejoin="round"/>
<path d="M560.3 385.3L567.5 399.3L553.1 399.3Z" fill="#0000ff" stroke="#0000ff" stroke-width="1" stroke-linejoin="round"/>
<path d="M579.0 382.8L586.2 396.8L571.8 396.8Z" fill="#0000ff" stroke="#0000ff" stroke-width="1" stroke-linejoin="round"/>
<path d="M571.5 391.5L578.7 405.5L564.3 405.5Z" fill="#0000ff" stroke="#0000ff" stroke-width="1" stroke-linejoin="round"/>
<path d="M634.0 389.0L641.2 403.0L626.8 403.0Z" fill="#0000ff" stroke="#0000ff" stroke-width="1" stroke-linejoin="round"/>
<path d="M647.8 392.8L655.0 406.8L640.6 406.8Z" fill="#0000ff" stroke="#0000ff" stroke-width="1" stroke-linejoin="round"/>
<path d="M630.3 396.5L637.5 410.5L623.1 410.5Z" fill="#0000ff" stroke="#0000ff" stroke-width="1" stroke-linejoin="round"/>
<path d="M640.3 399.0L647.5 413.0L633.1 413.0Z" fill="#0000ff" stroke="#0000ff" stroke-width="1" stroke-linejoin="round"/>
<path d="M597.8 394.0L605.0 408.0L590.6 408.0Z" fill="#0000ff" stroke="#0000ff" stroke-width="1" stroke-linejoin="round"/>
<path d="M604.0 396.5L611.2 410.5L596.8 410.5Z" fill="#0000ff" stroke="#0000ff" stroke-width="1" stroke-linejoin="round"/>
<path d="M517.3 400.3L524.5 414.3L510.1 414.3Z" fill="#0000ff" stroke="#0000ff" stroke-width="1" stroke-linejoin="round"/>
<path d="M517.8 405.3L525.0 419.3L510.6 419.3Z" fill="#0000ff" stroke="#0000ff" stroke-width="1" stroke-linejoin="round"/>
<path d="M544.0 402.8L551.2 416.8L536.8 416.8Z" fill="#0000ff" stroke="#0000ff" stroke-width="1" stroke-linejoin="round"/>
<path d="M574.0 404.0L581.2 418.0L566.8 418.0Z" fill="#0000ff" stroke="#0000ff" stroke-width="1" stroke-linejoin="round"/>
<path d="M617.8 406.5L625.0 420.5L610.6 420.5Z" fill="#0000ff" stroke="#0000ff" stroke-width="1" stroke-linejoin="round"/>
<path d="M601.5 410.3L608.7 424.3L594.3 424.3Z" fill="#0000ff" stroke="#0000ff" stroke-width="1" stroke-linejoin="round"/>
<path d="M606.5 412.8L613.7 426.8L599.3 426.8Z" fill="#0000ff" stroke="#0000ff" stroke-width="1" stroke-linejoin="round"/>
<path d="M557.8 412.8L565.0 426.8L550.6 426.8Z" fill="#0000ff" stroke="#0000ff" stroke-width="1" stroke-linejoin="round"/>
<path d="M601.5 425.3L608.7 439.3L594.3 439.3Z" fill="#0000ff" stroke="#0000ff" stroke-width="1" stroke-linejoin="round"/>
<path d="M502.8 430.3L510.0 444.3L495.6 444.3Z" fill="#0000ff" stroke="#0000ff" stroke-width="1" stroke-linejoin="round"/>
<path d="M507.8 440.3L515.0 454.3L500.6 454.3Z" fill="#0000ff" stroke="#0000ff" stroke-width="1" stroke-linejoin="round"/>
<path d="M606.0 442.0L613.2 456.0L598.8 456.0Z" fill="#0000ff" stroke="#0000ff" stroke-width="1" stroke-linejoin="round"/>
<path d="M629.0 434.0L636.2 448.0L621.8 448.0Z" fill="#0000ff" stroke="#0000ff" stroke-width="1" stroke-linejoin="round"/>
<path d="M632.8 439.0L640.0 453.0L625.6 453.0Z" fill="#0000ff" stroke="#0000ff" stroke-width="1" stroke-linejoin="round"/>
<path d="M677.8 436.5L685.0 450.5L670.6 450.5Z" fill="#0000ff" stroke="#0000ff" stroke-width="1" stroke-linejoin="round"/>
<path d="M539.0 456.0L546.2 470.0L531.8 470.0Z" fill="#0000ff" stroke="#0000ff" stroke-width="1" stroke-linejoin="round"/>
<path d="M634.0 462.0L641.2 476.0L626.8 476.0Z" fill="#0000ff" stroke="#0000ff" stroke-width="1" stroke-linejoin="round"/>
<path d="M503.3 570.0L510.5 584.0L496.1 584.0Z" fill="#0000ff" stroke="#0000ff" stroke-width="1" stroke-linejoin="round"/>
<path d="M703.3 178.0L710.5 192.0L696.1 192.0Z" fill="#0000ff" stroke="#0000ff" stroke-width="1" stroke-linejoin="round"/>
<path d="M700.3 356.5L707.5 370.5L693.1 370.5Z" fill="#0000ff" stroke="#0000ff" stroke-width="1" stroke-linejoin="round"/>
<path d="M578.5 257.8L581.1 261.4L585.3 262.8L582.7 266.4L582.7 270.8L578.5 269.5L574.3 270.8L574.3 266.4L571.7 262.8L575.9 261.4Z" fill="#008000" stroke="#008000" stroke-width="3.6" stroke-linejoin="round"/>
<path d="M651.0 285.8L653.6 289.4L657.8 290.8L655.2 294.4L655.2 298.8L651.0 297.5L646.8 298.8L646.8 294.4L644.2 290.8L648.4 289.4Z" fill="#008000" stroke="#008000" stroke-width="3.6" stroke-linejoin="round"/>
<path d="M677.8 287.0L680.4 290.6L684.6 292.0L682.0 295.6L682.0 300.0L677.8 298.7L673.6 300.0L673.6 295.6L671.0 292.0L675.2 290.6Z" fill="#008000" stroke="#008000" stroke-width="3.6" stroke-linejoin="round"/>
<path d="M616.5 332.0L619.1 335.6L623.3 337.0L620.7 340.6L620.7 345.0L616.5 343.7L612.3 345.0L612.3 340.6L609.7 337.0L613.9 335.6Z" fill="#008000" stroke="#008000" stroke-width="3.6" stroke-linejoin="round"/>
<path d="M648.5 323.3L651.1 326.9L655.3 328.3L652.7 331.9L652.7 336.3L648.5 335.0L644.3 336.3L644.3 331.9L641.7 328.3L645.9 326.9Z" fill="#008000" stroke="#008000" stroke-width="3.6" stroke-linejoin="round"/>
<path d="M778.5 223.5L781.1 227.1L785.3 228.5L782.7 232.1L782.7 236.5L778.5 235.2L774.3 236.5L774.3 232.1L771.7 228.5L775.9 227.1Z" fill="#008000" stroke="#008000" stroke-width="3.6" stroke-linejoin="round"/>
<path d="M719.0 241.0L721.6 244.6L725.8 246.0L723.2 249.6L723.2 254.0L719.0 252.7L714.8 254.0L714.8 249.6L712.2 246.0L716.4 244.6Z" fill="#008000" stroke="#008000" stroke-width="3.6" stroke-linejoin="round"/>
<path d="M817.3 245.3L819.9 248.9L824.1 250.3L821.5 253.9L821.5 258.3L817.3 257.0L813.1 258.3L813.1 253.9L810.5 250.3L814.7 248.9Z" fill="#008000" stroke="#008000" stroke-width="3.6" stroke-linejoin="round"/>
<path d="M779.8 268.5L782.4 272.1L786.6 273.5L784.0 277.1L784.0 281.5L779.8 280.2L775.6 281.5L775.6 277.1L773.0 273.5L777.2 272.1Z" fill="#008000" stroke="#008000" stroke-width="3.6" stroke-linejoin="round"/>
<path d="M823.5 277.8L826.1 281.4L830.3 282.8L827.7 286.4L827.7 290.8L823.5 289.5L819.3 290.8L819.3 286.4L816.7 282.8L820.9 281.4Z" fill="#008000" stroke="#008000" stroke-width="3.6" stroke-linejoin="round"/>
<path d="M686.5 309.5L689.1 313.1L693.3 314.5L690.7 318.1L690.7 322.5L686.5 321.2L682.3 322.5L682.3 318.1L679.7 314.5L683.9 313.1Z" fill="#008000" stroke="#008000" stroke-width="3.6" stroke-linejoin="round"/>
<path d="M749.0 312.8L751.6 316.4L755.8 317.8L753.2 321.4L753.2 325.8L749.0 324.5L744.8 325.8L744.8 321.4L742.2 317.8L746.4 316.4Z" fill="#008000" stroke="#008000" stroke-width="3.6" stroke-linejoin="round"/>
<path d="M761.5 319.5L764.1 323.1L768.3 324.5L765.7 328.1L765.7 332.5L761.5 331.2L757.3 332.5L757.3 328.1L754.7 324.5L758.9 323.1Z" fill="#008000" stroke="#008000" stroke-width="3.6" stroke-linejoin="round"/>
<path d="M710.3 355.0L712.9 358.6L717.1 360.0L714.5 363.6L714.5 368.0L710.3 366.7L706.1 368.0L706.1 363.6L703.5 360.0L707.7 358.6Z" fill="#008000" stroke="#008000" stroke-width="3.6" stroke-linejoin="round"/>
<path d="M720.3 352.0L722.9 355.6L727.1 357.0L724.5 360.6L724.5 365.0L720.3 363.7L716.1 365.0L716.1 360.6L713.5 357.0L717.7 355.6Z" fill="#008000" stroke="#008000" stroke-width="3.6" stroke-linejoin="round"/>
<path d="M809.8 350.8L812.4 354.4L816.6 355.8L814.0 359.4L814.0 363.8L809.8 362.5L805.6 363.8L805.6 359.4L803.0 355.8L807.2 354.4Z" fill="#008000" stroke="#008000" stroke-width="3.6" stroke-linejoin="round"/>
</g>
<rect x="84.3" y="4.6" width="775.5" height="571.0" fill="none" stroke="#000" stroke-width="1.9"/>
<line x1="123.2" y1="575.6" x2="123.2" y2="583.6" stroke="#000" stroke-width="1.9"/>
<text x="123.2" y="608.2" font-size="20.8" text-anchor="middle">42</text>
<line x1="224.2" y1="575.6" x2="224.2" y2="583.6" stroke="#000" stroke-width="1.9"/>
<text x="224.2" y="608.2" font-size="20.8" text-anchor="middle">43</text>
<line x1="325.2" y1="575.6" x2="325.2" y2="583.6" stroke="#000" stroke-width="1.9"/>
<text x="325.2" y="608.2" font-size="20.8" text-anchor="middle">44</text>
<line x1="426.2" y1="575.6" x2="426.2" y2="583.6" stroke="#000" stroke-width="1.9"/>
<text x="426.2" y="608.2" font-size="20.8" text-anchor="middle">45</text>
<line x1="527.2" y1="575.6" x2="527.2" y2="583.6" stroke="#000" stroke-width="1.9"/>
<text x="527.2" y="608.2" font-size="20.8" text-anchor="middle">46</text>
<line x1="628.2" y1="575.6" x2="628.2" y2="583.6" stroke="#000" stroke-width="1.9"/>
<text x="628.2" y="608.2" font-size="20.8" text-anchor="middle">47</text>
<line x1="729.2" y1="575.6" x2="729.2" y2="583.6" stroke="#000" stroke-width="1.9"/>
<text x="729.2" y="608.2" font-size="20.8" text-anchor="middle">48</text>
<line x1="830.2" y1="575.6" x2="830.2" y2="583.6" stroke="#000" stroke-width="1.9"/>
<text x="830.2" y="608.2" font-size="20.8" text-anchor="middle">49</text>
<line x1="76.3" y1="575.8" x2="84.3" y2="575.8" stroke="#000" stroke-width="1.9"/>
<text x="68.1" y="584.0" font-size="20.3" text-anchor="end">−<tspan dx="-1">2</tspan></text>
<line x1="76.3" y1="484.8" x2="84.3" y2="484.8" stroke="#000" stroke-width="1.9"/>
<text x="68.1" y="493.0" font-size="20.3" text-anchor="end">−<tspan dx="-1">1</tspan></text>
<line x1="76.3" y1="393.9" x2="84.3" y2="393.9" stroke="#000" stroke-width="1.9"/>
<text x="68.8" y="402.1" font-size="20.3" text-anchor="end">0</text>
<line x1="76.3" y1="302.9" x2="84.3" y2="302.9" stroke="#000" stroke-width="1.9"/>
<text x="68.8" y="311.1" font-size="20.3" text-anchor="end">1</text>
<line x1="76.3" y1="212.0" x2="84.3" y2="212.0" stroke="#000" stroke-width="1.9"/>
<text x="68.8" y="220.2" font-size="20.3" text-anchor="end">2</text>
<line x1="76.3" y1="121.0" x2="84.3" y2="121.0" stroke="#000" stroke-width="1.9"/>
<text x="68.8" y="129.2" font-size="20.3" text-anchor="end">3</text>
<line x1="76.3" y1="30.1" x2="84.3" y2="30.1" stroke="#000" stroke-width="1.9"/>
<text x="68.8" y="38.3" font-size="20.3" text-anchor="end">4</text>
<clipPath id="cb"><rect x="981.5" y="4.6" width="760.2" height="571.0"/></clipPath>
<g clip-path="url(#cb)">
<circle cx="1042.8" cy="421.0" r="5.3" fill="#ff0000"/>
<circle cx="1165.3" cy="405.5" r="5.3" fill="#ff0000"/>
<circle cx="1157.5" cy="523.3" r="5.3" fill="#ff0000"/>
<circle cx="1332.0" cy="196.8" r="5.3" fill="#ff0000"/>
<circle cx="1345.8" cy="280.0" r="5.3" fill="#ff0000"/>
<circle cx="1356.3" cy="291.3" r="5.3" fill="#ff0000"/>
<circle cx="1295.8" cy="298.0" r="5.3" fill="#ff0000"/>
<circle cx="1248.3" cy="328.5" r="5.3" fill="#ff0000"/>
<circle cx="1307.0" cy="333.5" r="5.3" fill="#ff0000"/>
<circle cx="1367.5" cy="346.0" r="5.3" fill="#ff0000"/>
<circle cx="1350.0" cy="442.3" r="5.3" fill="#ff0000"/>
<circle cx="1525.0" cy="142.5" r="5.3" fill="#ff0000"/>
<circle cx="1477.5" cy="153.3" r="5.3" fill="#ff0000"/>
<circle cx="1436.5" cy="156.8" r="5.3" fill="#ff0000"/>
<circle cx="1495.8" cy="165.0" r="5.3" fill="#ff0000"/>
<circle cx="1503.8" cy="174.3" r="5.3" fill="#ff0000"/>
<circle cx="1510.3" cy="174.3" r="5.3" fill="#ff0000"/>
<circle cx="1495.8" cy="186.0" r="5.3" fill="#ff0000"/>
<circle cx="1509.5" cy="187.5" r="5.3" fill="#ff0000"/>
<circle cx="1491.3" cy="196.8" r="5.3" fill="#ff0000"/>
<circle cx="1508.3" cy="202.5" r="5.3" fill="#ff0000"/>
<circle cx="1390.3" cy="202.5" r="5.3" fill="#ff0000"/>
<circle cx="1542.0" cy="216.8" r="5.3" fill="#ff0000"/>
<circle cx="1540.0" cy="230.5" r="5.3" fill="#ff0000"/>
<circle cx="1533.3" cy="256.8" r="5.3" fill="#ff0000"/>
<circle cx="1516.5" cy="263.0" r="5.3" fill="#ff0000"/>
<circle cx="1432.0" cy="256.8" r="5.3" fill="#ff0000"/>
<circle cx="1470.8" cy="264.3" r="5.3" fill="#ff0000"/>
<circle cx="1480.8" cy="265.5" r="5.3" fill="#ff0000"/>
<circle cx="1483.3" cy="271.8" r="5.3" fill="#ff0000"/>
<circle cx="1417.8" cy="271.0" r="5.3" fill="#ff0000"/>
<circle cx="1435.8" cy="269.3" r="5.3" fill="#ff0000"/>
<circle cx="1531.5" cy="275.5" r="5.3" fill="#ff0000"/>
<circle cx="1539.5" cy="273.0" r="5.3" fill="#ff0000"/>
<circle cx="1542.0" cy="280.5" r="5.3" fill="#ff0000"/>
<circle cx="1508.3" cy="285.5" r="5.3" fill="#ff0000"/>
<circle cx="1525.8" cy="291.8" r="5.3" fill="#ff0000"/>
<circle cx="1534.5" cy="290.5" r="5.3" fill="#ff0000"/>
<circle cx="1439.5" cy="292.5" r="5.3" fill="#ff0000"/>
<circle cx="1467.0" cy="296.8" r="5.3" fill="#ff0000"/>
<circle cx="1500.8" cy="300.5" r="5.3" fill="#ff0000"/>
<circle cx="1427.0" cy="305.0" r="5.3" fill="#ff0000"/>
<circle cx="1433.3" cy="312.5" r="5.3" fill="#ff0000"/>
<circle cx="1452.8" cy="313.0" r="5.3" fill="#ff0000"/>
<circle cx="1413.3" cy="320.5" r="5.3" fill="#ff0000"/>
<circle cx="1502.0" cy="318.0" r="5.3" fill="#ff0000"/>
<circle cx="1508.3" cy="312.5" r="5.3" fill="#ff0000"/>
<circle cx="1513.3" cy="313.0" r="5.3" fill="#ff0000"/>
<circle cx="1534.0" cy="310.5" r="5.3" fill="#ff0000"/>
<circle cx="1539.5" cy="323.0" r="5.3" fill="#ff0000"/>
<circle cx="1479.5" cy="338.0" r="5.3" fill="#ff0000"/>
<circle cx="1507.0" cy="343.0" r="5.3" fill="#ff0000"/>
<circle cx="1499.0" cy="351.0" r="5.3" fill="#ff0000"/>
<circle cx="1435.8" cy="351.0" r="5.3" fill="#ff0000"/>
<circle cx="1442.0" cy="356.0" r="5.3" fill="#ff0000"/>
<circle cx="1411.5" cy="354.8" r="5.3" fill="#ff0000"/>
<circle cx="1384.5" cy="349.8" r="5.3" fill="#ff0000"/>
<circle cx="1399.5" cy="372.3" r="5.3" fill="#ff0000"/>
<circle cx="1545.8" cy="353.5" r="5.3" fill="#ff0000"/>
<circle cx="1544.5" cy="364.8" r="5.3" fill="#ff0000"/>
<circle cx="1532.0" cy="328.5" r="5.3" fill="#ff0000"/>
<circle cx="1539.5" cy="328.5" r="5.3" fill="#ff0000"/>
<circle cx="1495.8" cy="378.5" r="5.3" fill="#ff0000"/>
<circle cx="1505.8" cy="387.3" r="5.3" fill="#ff0000"/>
<circle cx="1523.3" cy="383.5" r="5.3" fill="#ff0000"/>
<circle cx="1523.3" cy="392.3" r="5.3" fill="#ff0000"/>
<circle cx="1545.8" cy="389.8" r="5.3" fill="#ff0000"/>
<circle cx="1485.8" cy="371.0" r="5.3" fill="#ff0000"/>
<circle cx="1487.0" cy="397.3" r="5.3" fill="#ff0000"/>
<circle cx="1498.3" cy="402.3" r="5.3" fill="#ff0000"/>
<circle cx="1448.3" cy="388.5" r="5.3" fill="#ff0000"/>
<circle cx="1405.8" cy="388.5" r="5.3" fill="#ff0000"/>
<circle cx="1434.5" cy="408.0" r="5.3" fill="#ff0000"/>
<circle cx="1520.8" cy="408.5" r="5.3" fill="#ff0000"/>
<circle cx="1533.3" cy="425.5" r="5.3" fill="#ff0000"/>
<circle cx="1410.3" cy="429.8" r="5.3" fill="#ff0000"/>
<circle cx="1435.8" cy="433.5" r="5.3" fill="#ff0000"/>
<circle cx="1526.5" cy="454.8" r="5.3" fill="#ff0000"/>
<circle cx="1503.8" cy="481.0" r="5.3" fill="#ff0000"/>
<circle cx="1444.0" cy="498.5" r="5.3" fill="#ff0000"/>
<circle cx="1589.8" cy="82.0" r="5.3" fill="#ff0000"/>
<circle cx="1617.3" cy="99.3" r="5.3" fill="#ff0000"/>
<circle cx="1669.3" cy="108.8" r="5.3" fill="#ff0000"/>
<circle cx="1629.8" cy="121.3" r="5.3" fill="#ff0000"/>
<circle cx="1561.8" cy="131.8" r="5.3" fill="#ff0000"/>
<circle cx="1569.8" cy="135.0" r="5.3" fill="#ff0000"/>
<circle cx="1566.5" cy="168.5" r="5.3" fill="#ff0000"/>
<circle cx="1586.5" cy="164.5" r="5.3" fill="#ff0000"/>
<circle cx="1557.3" cy="187.5" r="5.3" fill="#ff0000"/>
<circle cx="1580.5" cy="196.8" r="5.3" fill="#ff0000"/>
<circle cx="1588.5" cy="194.3" r="5.3" fill="#ff0000"/>
<circle cx="1614.0" cy="198.0" r="5.3" fill="#ff0000"/>
<circle cx="1621.8" cy="203.0" r="5.3" fill="#ff0000"/>
<circle cx="1578.0" cy="210.5" r="5.3" fill="#ff0000"/>
<circle cx="1654.0" cy="211.8" r="5.3" fill="#ff0000"/>
<circle cx="1655.5" cy="220.0" r="5.3" fill="#ff0000"/>
<circle cx="1634.0" cy="221.0" r="5.3" fill="#ff0000"/>
<circle cx="1635.5" cy="230.5" r="5.3" fill="#ff0000"/>
<circle cx="1606.5" cy="222.5" r="5.3" fill="#ff0000"/>
<circle cx="1706.0" cy="221.8" r="5.3" fill="#ff0000"/>
<circle cx="1559.8" cy="220.5" r="5.3" fill="#ff0000"/>
<circle cx="1552.3" cy="226.8" r="5.3" fill="#ff0000"/>
<circle cx="1584.8" cy="225.5" r="5.3" fill="#ff0000"/>
<circle cx="1597.3" cy="238.0" r="5.3" fill="#ff0000"/>
<circle cx="1577.3" cy="238.0" r="5.3" fill="#ff0000"/>
<circle cx="1569.8" cy="239.3" r="5.3" fill="#ff0000"/>
<circle cx="1573.5" cy="244.3" r="5.3" fill="#ff0000"/>
<circle cx="1554.8" cy="244.3" r="5.3" fill="#ff0000"/>
<circle cx="1567.3" cy="246.8" r="5.3" fill="#ff0000"/>
<circle cx="1561.5" cy="250.5" r="5.3" fill="#ff0000"/>
<circle cx="1557.3" cy="255.5" r="5.3" fill="#ff0000"/>
<circle cx="1589.8" cy="253.5" r="5.3" fill="#ff0000"/>
<circle cx="1601.0" cy="257.5" r="5.3" fill="#ff0000"/>
<circle cx="1635.5" cy="258.0" r="5.3" fill="#ff0000"/>
<circle cx="1679.8" cy="258.8" r="5.3" fill="#ff0000"/>
<circle cx="1598.5" cy="265.5" r="5.3" fill="#ff0000"/>
<circle cx="1624.8" cy="265.5" r="5.3" fill="#ff0000"/>
<circle cx="1558.5" cy="265.5" r="5.3" fill="#ff0000"/>
<circle cx="1629.0" cy="278.5" r="5.3" fill="#ff0000"/>
<circle cx="1638.5" cy="276.8" r="5.3" fill="#ff0000"/>
<circle cx="1652.3" cy="275.5" r="5.3" fill="#ff0000"/>
<circle cx="1659.0" cy="278.5" r="5.3" fill="#ff0000"/>
<circle cx="1584.8" cy="280.5" r="5.3" fill="#ff0000"/>
<circle cx="1579.8" cy="289.3" r="5.3" fill="#ff0000"/>
<circle cx="1582.3" cy="298.0" r="5.3" fill="#ff0000"/>
<circle cx="1646.0" cy="295.5" r="5.3" fill="#ff0000"/>
<circle cx="1602.3" cy="298.0" r="5.3" fill="#ff0000"/>
<circle cx="1571.0" cy="300.0" r="5.3" fill="#ff0000"/>
<circle cx="1563.5" cy="302.5" r="5.3" fill="#ff0000"/>
<circle cx="1567.3" cy="309.3" r="5.3" fill="#ff0000"/>
<circle cx="1602.3" cy="308.0" r="5.3" fill="#ff0000"/>
<circle cx="1604.8" cy="314.3" r="5.3" fill="#ff0000"/>
<circle cx="1554.8" cy="313.8" r="5.3" fill="#ff0000"/>
<circle cx="1626.0" cy="313.8" r="5.3" fill="#ff0000"/>
<circle cx="1656.0" cy="315.0" r="5.3" fill="#ff0000"/>
<circle cx="1690.5" cy="316.0" r="5.3" fill="#ff0000"/>
<circle cx="1589.8" cy="314.3" r="5.3" fill="#ff0000"/>
<circle cx="1582.3" cy="320.5" r="5.3" fill="#ff0000"/>
<circle cx="1593.5" cy="323.0" r="5.3" fill="#ff0000"/>
<circle cx="1607.3" cy="320.5" r="5.3" fill="#ff0000"/>
<circle cx="1612.3" cy="320.5" r="5.3" fill="#ff0000"/>
<circle cx="1549.8" cy="321.8" r="5.3" fill="#ff0000"/>
<circle cx="1553.5" cy="328.5" r="5.3" fill="#ff0000"/>
<circle cx="1586.0" cy="328.5" r="5.3" fill="#ff0000"/>
<circle cx="1594.8" cy="328.5" r="5.3" fill="#ff0000"/>
<circle cx="1607.3" cy="327.3" r="5.3" fill="#ff0000"/>
<circle cx="1654.8" cy="329.0" r="5.3" fill="#ff0000"/>
<circle cx="1665.5" cy="329.0" r="5.3" fill="#ff0000"/>
<circle cx="1669.0" cy="338.5" r="5.3" fill="#ff0000"/>
<circle cx="1659.8" cy="346.0" r="5.3" fill="#ff0000"/>
<circle cx="1632.3" cy="344.8" r="5.3" fill="#ff0000"/>
<circle cx="1619.3" cy="348.0" r="5.3" fill="#ff0000"/>
<circle cx="1549.8" cy="344.8" r="5.3" fill="#ff0000"/>
<circle cx="1608.5" cy="355.5" r="5.3" fill="#ff0000"/>
<circle cx="1618.5" cy="353.5" r="5.3" fill="#ff0000"/>
<circle cx="1637.3" cy="356.0" r="5.3" fill="#ff0000"/>
<circle cx="1664.8" cy="358.5" r="5.3" fill="#ff0000"/>
<circle cx="1676.0" cy="355.5" r="5.3" fill="#ff0000"/>
<circle cx="1680.5" cy="359.0" r="5.3" fill="#ff0000"/>
<circle cx="1703.0" cy="351.0" r="5.3" fill="#ff0000"/>
<circle cx="1703.0" cy="354.8" r="5.3" fill="#ff0000"/>
<circle cx="1557.3" cy="360.5" r="5.3" fill="#ff0000"/>
<circle cx="1578.5" cy="353.5" r="5.3" fill="#ff0000"/>
<circle cx="1586.0" cy="363.5" r="5.3" fill="#ff0000"/>
<circle cx="1615.5" cy="364.8" r="5.3" fill="#ff0000"/>
<circle cx="1634.8" cy="363.5" r="5.3" fill="#ff0000"/>
<circle cx="1644.8" cy="369.8" r="5.3" fill="#ff0000"/>
<circle cx="1622.3" cy="376.0" r="5.3" fill="#ff0000"/>
<circle cx="1649.3" cy="384.0" r="5.3" fill="#ff0000"/>
<circle cx="1549.8" cy="371.0" r="5.3" fill="#ff0000"/>
<circle cx="1556.0" cy="377.3" r="5.3" fill="#ff0000"/>
<circle cx="1584.8" cy="372.3" r="5.3" fill="#ff0000"/>
<circle cx="1601.0" cy="376.0" r="5.3" fill="#ff0000"/>
<circle cx="1558.5" cy="386.0" r="5.3" fill="#ff0000"/>
<circle cx="1566.0" cy="388.5" r="5.3" fill="#ff0000"/>
<circle cx="1553.5" cy="394.8" r="5.3" fill="#ff0000"/>
<circle cx="1611.0" cy="389.8" r="5.3" fill="#ff0000"/>
<circle cx="1578.5" cy="399.8" r="5.3" fill="#ff0000"/>
<circle cx="1609.8" cy="401.0" r="5.3" fill="#ff0000"/>
<circle cx="1607.3" cy="411.0" r="5.3" fill="#ff0000"/>
<circle cx="1599.8" cy="408.5" r="5.3" fill="#ff0000"/>
<circle cx="1593.5" cy="414.8" r="5.3" fill="#ff0000"/>
<circle cx="1578.5" cy="412.3" r="5.3" fill="#ff0000"/>
<circle cx="1563.5" cy="417.3" r="5.3" fill="#ff0000"/>
<circle cx="1617.3" cy="418.5" r="5.3" fill="#ff0000"/>
<circle cx="1624.8" cy="416.0" r="5.3" fill="#ff0000"/>
<circle cx="1633.0" cy="419.8" r="5.3" fill="#ff0000"/>
<circle cx="1637.3" cy="427.3" r="5.3" fill="#ff0000"/>
<circle cx="1652.3" cy="404.8" r="5.3" fill="#ff0000"/>
<circle cx="1669.0" cy="406.8" r="5.3" fill="#ff0000"/>
<circle cx="1701.5" cy="405.5" r="5.3" fill="#ff0000"/>
<circle cx="1696.8" cy="425.5" r="5.3" fill="#ff0000"/>
<circle cx="1580.5" cy="427.3" r="5.3" fill="#ff0000"/>
<circle cx="1594.8" cy="425.5" r="5.3" fill="#ff0000"/>
<circle cx="1599.8" cy="434.8" r="5.3" fill="#ff0000"/>
<circle cx="1549.8" cy="442.3" r="5.3" fill="#ff0000"/>
<circle cx="1572.8" cy="446.0" r="5.3" fill="#ff0000"/>
<circle cx="1589.8" cy="449.0" r="5.3" fill="#ff0000"/>
<circle cx="1626.5" cy="467.3" r="5.3" fill="#ff0000"/>
<circle cx="1554.8" cy="484.5" r="5.3" fill="#ff0000"/>
<circle cx="1577.3" cy="485.3" r="5.3" fill="#ff0000"/>
<circle cx="1613.0" cy="488.0" r="5.3" fill="#ff0000"/>
<circle cx="1510.7" cy="343.0" r="5.3" fill="#ff0000"/>
<circle cx="1559.7" cy="338.6" r="5.3" fill="#ff0000"/>
<circle cx="1588.0" cy="336.7" r="5.3" fill="#ff0000"/>
<circle cx="1583.6" cy="378.8" r="5.3" fill="#ff0000"/>
<circle cx="1567.3" cy="374.4" r="5.3" fill="#ff0000"/>
<circle cx="1587.5" cy="327.7" r="5.3" fill="#ff0000"/>
<circle cx="1608.9" cy="323.9" r="5.3" fill="#ff0000"/>
<circle cx="1602.6" cy="412.0" r="5.3" fill="#ff0000"/>
<circle cx="1600.0" cy="318.0" r="5.3" fill="#ff0000"/>
<circle cx="1472.4" cy="329.1" r="5.3" fill="#ff0000"/>
<circle cx="1416.5" cy="408.2" r="5.3" fill="#ff0000"/>
<circle cx="1400.5" cy="353.7" r="5.3" fill="#ff0000"/>
<path d="M1150.0 185.5L1157.2 199.5L1142.8 199.5Z" fill="#0000ff" stroke="#0000ff" stroke-width="1" stroke-linejoin="round"/>
<path d="M1135.8 281.0L1143.0 295.0L1128.6 295.0Z" fill="#0000ff" stroke="#0000ff" stroke-width="1" stroke-linejoin="round"/>
<path d="M1147.0 285.5L1154.2 299.5L1139.8 299.5Z" fill="#0000ff" stroke="#0000ff" stroke-width="1" stroke-linejoin="round"/>
<path d="M1143.3 292.3L1150.5 306.3L1136.1 306.3Z" fill="#0000ff" stroke="#0000ff" stroke-width="1" stroke-linejoin="round"/>
<path d="M1165.3 303.0L1172.5 317.0L1158.1 317.0Z" fill="#0000ff" stroke="#0000ff" stroke-width="1" stroke-linejoin="round"/>
<path d="M1084.0 310.5L1091.2 324.5L1076.8 324.5Z" fill="#0000ff" stroke="#0000ff" stroke-width="1" stroke-linejoin="round"/>
<path d="M1015.0 343.3L1022.2 357.3L1007.8 357.3Z" fill="#0000ff" stroke="#0000ff" stroke-width="1" stroke-linejoin="round"/>
<path d="M1155.8 338.5L1163.0 352.5L1148.6 352.5Z" fill="#0000ff" stroke="#0000ff" stroke-width="1" stroke-linejoin="round"/>
<path d="M1161.5 337.0L1168.7 351.0L1154.3 351.0Z" fill="#0000ff" stroke="#0000ff" stroke-width="1" stroke-linejoin="round"/>
<path d="M1163.8 352.8L1171.0 366.8L1156.6 366.8Z" fill="#0000ff" stroke="#0000ff" stroke-width="1" stroke-linejoin="round"/>
<path d="M1138.8 375.8L1146.0 389.8L1131.6 389.8Z" fill="#0000ff" stroke="#0000ff" stroke-width="1" stroke-linejoin="round"/>
<path d="M1150.0 380.3L1157.2 394.3L1142.8 394.3Z" fill="#0000ff" stroke="#0000ff" stroke-width="1" stroke-linejoin="round"/>
<path d="M1075.0 403.5L1082.2 417.5L1067.8 417.5Z" fill="#0000ff" stroke="#0000ff" stroke-width="1" stroke-linejoin="round"/>
<path d="M1286.5 30.5L1293.7 44.5L1279.3 44.5Z" fill="#0000ff" stroke="#0000ff" stroke-width="1" stroke-linejoin="round"/>
<path d="M1275.8 81.8L1283.0 95.8L1268.6 95.8Z" fill="#0000ff" stroke="#0000ff" stroke-width="1" stroke-linejoin="round"/>
<path d="M1248.3 126.8L1255.5 140.8L1241.1 140.8Z" fill="#0000ff" stroke="#0000ff" stroke-width="1" stroke-linejoin="round"/>
<path d="M1297.0 149.3L1304.2 163.3L1289.8 163.3Z" fill="#0000ff" stroke="#0000ff" stroke-width="1" stroke-linejoin="round"/>
<path d="M1286.5 159.8L1293.7 173.8L1279.3 173.8Z" fill="#0000ff" stroke="#0000ff" stroke-width="1" stroke-linejoin="round"/>
<path d="M1188.3 170.3L1195.5 184.3L1181.1 184.3Z" fill="#0000ff" stroke="#0000ff" stroke-width="1" stroke-linejoin="round"/>
<path d="M1196.5 179.3L1203.7 193.3L1189.3 193.3Z" fill="#0000ff" stroke="#0000ff" stroke-width="1" stroke-linejoin="round"/>
<path d="M1292.8 180.5L1300.0 194.5L1285.6 194.5Z" fill="#0000ff" stroke="#0000ff" stroke-width="1" stroke-linejoin="round"/>
<path d="M1290.0 188.5L1297.2 202.5L1282.8 202.5Z" fill="#0000ff" stroke="#0000ff" stroke-width="1" stroke-linejoin="round"/>
<path d="M1288.3 193.5L1295.5 207.5L1281.1 207.5Z" fill="#0000ff" stroke="#0000ff" stroke-width="1" stroke-linejoin="round"/>
<path d="M1303.3 194.8L1310.5 208.8L1296.1 208.8Z" fill="#0000ff" stroke="#0000ff" stroke-width="1" stroke-linejoin="round"/>
<path d="M1267.0 213.0L1274.2 227.0L1259.8 227.0Z" fill="#0000ff" stroke="#0000ff" stroke-width="1" stroke-linejoin="round"/>
<path d="M1327.0 216.0L1334.2 230.0L1319.8 230.0Z" fill="#0000ff" stroke="#0000ff" stroke-width="1" stroke-linejoin="round"/>
<path d="M1331.5 226.5L1338.7 240.5L1324.3 240.5Z" fill="#0000ff" stroke="#0000ff" stroke-width="1" stroke-linejoin="round"/>
<path d="M1338.3 226.5L1345.5 240.5L1331.1 240.5Z" fill="#0000ff" stroke="#0000ff" stroke-width="1" stroke-linejoin="round"/>
<path d="M1185.8 236.0L1193.0 250.0L1178.6 250.0Z" fill="#0000ff" stroke="#0000ff" stroke-width="1" stroke-linejoin="round"/>
<path d="M1350.8 245.5L1358.0 259.5L1343.6 259.5Z" fill="#0000ff" stroke="#0000ff" stroke-width="1" stroke-linejoin="round"/>
<path d="M1300.0 251.8L1307.2 265.8L1292.8 265.8Z" fill="#0000ff" stroke="#0000ff" stroke-width="1" stroke-linejoin="round"/>
<path d="M1328.8 251.8L1336.0 265.8L1321.6 265.8Z" fill="#0000ff" stroke="#0000ff" stroke-width="1" stroke-linejoin="round"/>
<path d="M1337.5 253.0L1344.7 267.0L1330.3 267.0Z" fill="#0000ff" stroke="#0000ff" stroke-width="1" stroke-linejoin="round"/>
<path d="M1345.8 257.3L1353.0 271.3L1338.6 271.3Z" fill="#0000ff" stroke="#0000ff" stroke-width="1" stroke-linejoin="round"/>
<path d="M1375.8 254.8L1383.0 268.8L1368.6 268.8Z" fill="#0000ff" stroke="#0000ff" stroke-width="1" stroke-linejoin="round"/>
<path d="M1310.8 262.3L1318.0 276.3L1303.6 276.3Z" fill="#0000ff" stroke="#0000ff" stroke-width="1" stroke-linejoin="round"/>
<path d="M1319.5 267.3L1326.7 281.3L1312.3 281.3Z" fill="#0000ff" stroke="#0000ff" stroke-width="1" stroke-linejoin="round"/>
<path d="M1360.0 267.3L1367.2 281.3L1352.8 281.3Z" fill="#0000ff" stroke="#0000ff" stroke-width="1" stroke-linejoin="round"/>
<path d="M1356.3 274.8L1363.5 288.8L1349.1 288.8Z" fill="#0000ff" stroke="#0000ff" stroke-width="1" stroke-linejoin="round"/>
<path d="M1292.0 281.0L1299.2 295.0L1284.8 295.0Z" fill="#0000ff" stroke="#0000ff" stroke-width="1" stroke-linejoin="round"/>
<path d="M1225.3 285.5L1232.5 299.5L1218.1 299.5Z" fill="#0000ff" stroke="#0000ff" stroke-width="1" stroke-linejoin="round"/>
<path d="M1332.0 285.5L1339.2 299.5L1324.8 299.5Z" fill="#0000ff" stroke="#0000ff" stroke-width="1" stroke-linejoin="round"/>
<path d="M1266.5 298.0L1273.7 312.0L1259.3 312.0Z" fill="#0000ff" stroke="#0000ff" stroke-width="1" stroke-linejoin="round"/>
<path d="M1275.0 298.0L1282.2 312.0L1267.8 312.0Z" fill="#0000ff" stroke="#0000ff" stroke-width="1" stroke-linejoin="round"/>
<path d="M1347.0 309.8L1354.2 323.8L1339.8 323.8Z" fill="#0000ff" stroke="#0000ff" stroke-width="1" stroke-linejoin="round"/>
<path d="M1342.0 314.8L1349.2 328.8L1334.8 328.8Z" fill="#0000ff" stroke="#0000ff" stroke-width="1" stroke-linejoin="round"/>
<path d="M1378.3 283.5L1385.5 297.5L1371.1 297.5Z" fill="#0000ff" stroke="#0000ff" stroke-width="1" stroke-linejoin="round"/>
<path d="M1379.5 291.0L1386.7 305.0L1372.3 305.0Z" fill="#0000ff" stroke="#0000ff" stroke-width="1" stroke-linejoin="round"/>
<path d="M1190.0 333.5L1197.2 347.5L1182.8 347.5Z" fill="#0000ff" stroke="#0000ff" stroke-width="1" stroke-linejoin="round"/>
<path d="M1244.5 342.8L1251.7 356.8L1237.3 356.8Z" fill="#0000ff" stroke="#0000ff" stroke-width="1" stroke-linejoin="round"/>
<path d="M1252.0 342.8L1259.2 356.8L1244.8 356.8Z" fill="#0000ff" stroke="#0000ff" stroke-width="1" stroke-linejoin="round"/>
<path d="M1266.5 338.5L1273.7 352.5L1259.3 352.5Z" fill="#0000ff" stroke="#0000ff" stroke-width="1" stroke-linejoin="round"/>
<path d="M1280.3 332.0L1287.5 346.0L1273.1 346.0Z" fill="#0000ff" stroke="#0000ff" stroke-width="1" stroke-linejoin="round"/>
<path d="M1294.0 327.8L1301.2 341.8L1286.8 341.8Z" fill="#0000ff" stroke="#0000ff" stroke-width="1" stroke-linejoin="round"/>
<path d="M1310.8 330.3L1318.0 344.3L1303.6 344.3Z" fill="#0000ff" stroke="#0000ff" stroke-width="1" stroke-linejoin="round"/>
<path d="M1310.0 335.3L1317.2 349.3L1302.8 349.3Z" fill="#0000ff" stroke="#0000ff" stroke-width="1" stroke-linejoin="round"/>
<path d="M1340.8 338.5L1348.0 352.5L1333.6 352.5Z" fill="#0000ff" stroke="#0000ff" stroke-width="1" stroke-linejoin="round"/>
<path d="M1352.0 329.0L1359.2 343.0L1344.8 343.0Z" fill="#0000ff" stroke="#0000ff" stroke-width="1" stroke-linejoin="round"/>
<path d="M1362.0 342.8L1369.2 356.8L1354.8 356.8Z" fill="#0000ff" stroke="#0000ff" stroke-width="1" stroke-linejoin="round"/>
<path d="M1377.0 342.8L1384.2 356.8L1369.8 356.8Z" fill="#0000ff" stroke="#0000ff" stroke-width="1" stroke-linejoin="round"/>
<path d="M1300.8 345.3L1308.0 359.3L1293.6 359.3Z" fill="#0000ff" stroke="#0000ff" stroke-width="1" stroke-linejoin="round"/>
<path d="M1268.3 351.5L1275.5 365.5L1261.1 365.5Z" fill="#0000ff" stroke="#0000ff" stroke-width="1" stroke-linejoin="round"/>
<path d="M1277.0 356.5L1284.2 370.5L1269.8 370.5Z" fill="#0000ff" stroke="#0000ff" stroke-width="1" stroke-linejoin="round"/>
<path d="M1289.5 356.5L1296.7 370.5L1282.3 370.5Z" fill="#0000ff" stroke="#0000ff" stroke-width="1" stroke-linejoin="round"/>
<path d="M1297.0 351.5L1304.2 365.5L1289.8 365.5Z" fill="#0000ff" stroke="#0000ff" stroke-width="1" stroke-linejoin="round"/>
<path d="M1301.5 361.5L1308.7 375.5L1294.3 375.5Z" fill="#0000ff" stroke="#0000ff" stroke-width="1" stroke-linejoin="round"/>
<path d="M1269.5 362.8L1276.7 376.8L1262.3 376.8Z" fill="#0000ff" stroke="#0000ff" stroke-width="1" stroke-linejoin="round"/>
<path d="M1273.3 369.0L1280.5 383.0L1266.1 383.0Z" fill="#0000ff" stroke="#0000ff" stroke-width="1" stroke-linejoin="round"/>
<path d="M1280.3 375.3L1287.5 389.3L1273.1 389.3Z" fill="#0000ff" stroke="#0000ff" stroke-width="1" stroke-linejoin="round"/>
<path d="M1351.5 349.0L1358.7 363.0L1344.3 363.0Z" fill="#0000ff" stroke="#0000ff" stroke-width="1" stroke-linejoin="round"/>
<path d="M1345.8 356.5L1353.0 370.5L1338.6 370.5Z" fill="#0000ff" stroke="#0000ff" stroke-width="1" stroke-linejoin="round"/>
<path d="M1329.0 361.5L1336.2 375.5L1321.8 375.5Z" fill="#0000ff" stroke="#0000ff" stroke-width="1" stroke-linejoin="round"/>
<path d="M1332.0 365.3L1339.2 379.3L1324.8 379.3Z" fill="#0000ff" stroke="#0000ff" stroke-width="1" stroke-linejoin="round"/>
<path d="M1333.3 376.0L1340.5 390.0L1326.1 390.0Z" fill="#0000ff" stroke="#0000ff" stroke-width="1" stroke-linejoin="round"/>
<path d="M1339.5 387.8L1346.7 401.8L1332.3 401.8Z" fill="#0000ff" stroke="#0000ff" stroke-width="1" stroke-linejoin="round"/>
<path d="M1342.8 400.3L1350.0 414.3L1335.6 414.3Z" fill="#0000ff" stroke="#0000ff" stroke-width="1" stroke-linejoin="round"/>
<path d="M1353.3 378.5L1360.5 392.5L1346.1 392.5Z" fill="#0000ff" stroke="#0000ff" stroke-width="1" stroke-linejoin="round"/>
<path d="M1360.8 389.0L1368.0 403.0L1353.6 403.0Z" fill="#0000ff" stroke="#0000ff" stroke-width="1" stroke-linejoin="round"/>
<path d="M1366.5 391.0L1373.7 405.0L1359.3 405.0Z" fill="#0000ff" stroke="#0000ff" stroke-width="1" stroke-linejoin="round"/>
<path d="M1375.8 369.0L1383.0 383.0L1368.6 383.0Z" fill="#0000ff" stroke="#0000ff" stroke-width="1" stroke-linejoin="round"/>
<path d="M1373.3 372.8L1380.5 386.8L1366.1 386.8Z" fill="#0000ff" stroke="#0000ff" stroke-width="1" stroke-linejoin="round"/>
<path d="M1222.0 372.3L1229.2 386.3L1214.8 386.3Z" fill="#0000ff" stroke="#0000ff" stroke-width="1" stroke-linejoin="round"/>
<path d="M1243.3 367.8L1250.5 381.8L1236.1 381.8Z" fill="#0000ff" stroke="#0000ff" stroke-width="1" stroke-linejoin="round"/>
<path d="M1254.5 375.3L1261.7 389.3L1247.3 389.3Z" fill="#0000ff" stroke="#0000ff" stroke-width="1" stroke-linejoin="round"/>
<path d="M1247.0 382.8L1254.2 396.8L1239.8 396.8Z" fill="#0000ff" stroke="#0000ff" stroke-width="1" stroke-linejoin="round"/>
<path d="M1202.0 378.5L1209.2 392.5L1194.8 392.5Z" fill="#0000ff" stroke="#0000ff" stroke-width="1" stroke-linejoin="round"/>
<path d="M1188.3 381.5L1195.5 395.5L1181.1 395.5Z" fill="#0000ff" stroke="#0000ff" stroke-width="1" stroke-linejoin="round"/>
<path d="M1195.8 392.8L1203.0 406.8L1188.6 406.8Z" fill="#0000ff" stroke="#0000ff" stroke-width="1" stroke-linejoin="round"/>
<path d="M1187.0 394.0L1194.2 408.0L1179.8 408.0Z" fill="#0000ff" stroke="#0000ff" stroke-width="1" stroke-linejoin="round"/>
<path d="M1237.5 394.0L1244.7 408.0L1230.3 408.0Z" fill="#0000ff" stroke="#0000ff" stroke-width="1" stroke-linejoin="round"/>
<path d="M1229.5 399.0L1236.7 413.0L1222.3 413.0Z" fill="#0000ff" stroke="#0000ff" stroke-width="1" stroke-linejoin="round"/>
<path d="M1243.3 407.8L1250.5 421.8L1236.1 421.8Z" fill="#0000ff" stroke="#0000ff" stroke-width="1" stroke-linejoin="round"/>
<path d="M1199.0 407.8L1206.2 421.8L1191.8 421.8Z" fill="#0000ff" stroke="#0000ff" stroke-width="1" stroke-linejoin="round"/>
<path d="M1291.3 394.0L1298.5 408.0L1284.1 408.0Z" fill="#0000ff" stroke="#0000ff" stroke-width="1" stroke-linejoin="round"/>
<path d="M1310.8 402.0L1318.0 416.0L1303.6 416.0Z" fill="#0000ff" stroke="#0000ff" stroke-width="1" stroke-linejoin="round"/>
<path d="M1208.3 427.8L1215.5 441.8L1201.1 441.8Z" fill="#0000ff" stroke="#0000ff" stroke-width="1" stroke-linejoin="round"/>
<path d="M1336.5 426.5L1343.7 440.5L1329.3 440.5Z" fill="#0000ff" stroke="#0000ff" stroke-width="1" stroke-linejoin="round"/>
<path d="M1327.5 440.3L1334.7 454.3L1320.3 454.3Z" fill="#0000ff" stroke="#0000ff" stroke-width="1" stroke-linejoin="round"/>
<path d="M1240.8 451.0L1248.0 465.0L1233.6 465.0Z" fill="#0000ff" stroke="#0000ff" stroke-width="1" stroke-linejoin="round"/>
<path d="M1312.0 456.0L1319.2 470.0L1304.8 470.0Z" fill="#0000ff" stroke="#0000ff" stroke-width="1" stroke-linejoin="round"/>
<path d="M1356.5 512.0L1363.7 526.0L1349.3 526.0Z" fill="#0000ff" stroke="#0000ff" stroke-width="1" stroke-linejoin="round"/>
<path d="M1395.0 77.3L1402.2 91.3L1387.8 91.3Z" fill="#0000ff" stroke="#0000ff" stroke-width="1" stroke-linejoin="round"/>
<path d="M1439.5 86.8L1446.7 100.8L1432.3 100.8Z" fill="#0000ff" stroke="#0000ff" stroke-width="1" stroke-linejoin="round"/>
<path d="M1402.5 102.3L1409.7 116.3L1395.3 116.3Z" fill="#0000ff" stroke="#0000ff" stroke-width="1" stroke-linejoin="round"/>
<path d="M1398.3 107.3L1405.5 121.3L1391.1 121.3Z" fill="#0000ff" stroke="#0000ff" stroke-width="1" stroke-linejoin="round"/>
<path d="M1392.0 133.0L1399.2 147.0L1384.8 147.0Z" fill="#0000ff" stroke="#0000ff" stroke-width="1" stroke-linejoin="round"/>
<path d="M1468.3 158.5L1475.5 172.5L1461.1 172.5Z" fill="#0000ff" stroke="#0000ff" stroke-width="1" stroke-linejoin="round"/>
<path d="M1539.0 178.0L1546.2 192.0L1531.8 192.0Z" fill="#0000ff" stroke="#0000ff" stroke-width="1" stroke-linejoin="round"/>
<path d="M1421.3 201.0L1428.5 215.0L1414.1 215.0Z" fill="#0000ff" stroke="#0000ff" stroke-width="1" stroke-linejoin="round"/>
<path d="M1393.3 209.0L1400.5 223.0L1386.1 223.0Z" fill="#0000ff" stroke="#0000ff" stroke-width="1" stroke-linejoin="round"/>
<path d="M1460.8 205.5L1468.0 219.5L1453.6 219.5Z" fill="#0000ff" stroke="#0000ff" stroke-width="1" stroke-linejoin="round"/>
<path d="M1503.8 205.5L1511.0 219.5L1496.6 219.5Z" fill="#0000ff" stroke="#0000ff" stroke-width="1" stroke-linejoin="round"/>
<path d="M1454.5 224.0L1461.7 238.0L1447.3 238.0Z" fill="#0000ff" stroke="#0000ff" stroke-width="1" stroke-linejoin="round"/>
<path d="M1442.0 233.0L1449.2 247.0L1434.8 247.0Z" fill="#0000ff" stroke="#0000ff" stroke-width="1" stroke-linejoin="round"/>
<path d="M1514.5 236.5L1521.7 250.5L1507.3 250.5Z" fill="#0000ff" stroke="#0000ff" stroke-width="1" stroke-linejoin="round"/>
<path d="M1535.8 234.8L1543.0 248.8L1528.6 248.8Z" fill="#0000ff" stroke="#0000ff" stroke-width="1" stroke-linejoin="round"/>
<path d="M1427.0 242.3L1434.2 256.3L1419.8 256.3Z" fill="#0000ff" stroke="#0000ff" stroke-width="1" stroke-linejoin="round"/>
<path d="M1454.5 245.5L1461.7 259.5L1447.3 259.5Z" fill="#0000ff" stroke="#0000ff" stroke-width="1" stroke-linejoin="round"/>
<path d="M1505.0 247.3L1512.2 261.3L1497.8 261.3Z" fill="#0000ff" stroke="#0000ff" stroke-width="1" stroke-linejoin="round"/>
<path d="M1457.0 262.3L1464.2 276.3L1449.8 276.3Z" fill="#0000ff" stroke="#0000ff" stroke-width="1" stroke-linejoin="round"/>
<path d="M1393.3 271.0L1400.5 285.0L1386.1 285.0Z" fill="#0000ff" stroke="#0000ff" stroke-width="1" stroke-linejoin="round"/>
<path d="M1409.5 272.3L1416.7 286.3L1402.3 286.3Z" fill="#0000ff" stroke="#0000ff" stroke-width="1" stroke-linejoin="round"/>
<path d="M1419.5 281.0L1426.7 295.0L1412.3 295.0Z" fill="#0000ff" stroke="#0000ff" stroke-width="1" stroke-linejoin="round"/>
<path d="M1449.5 281.0L1456.7 295.0L1442.3 295.0Z" fill="#0000ff" stroke="#0000ff" stroke-width="1" stroke-linejoin="round"/>
<path d="M1399.0 290.5L1406.2 304.5L1391.8 304.5Z" fill="#0000ff" stroke="#0000ff" stroke-width="1" stroke-linejoin="round"/>
<path d="M1475.8 286.0L1483.0 300.0L1468.6 300.0Z" fill="#0000ff" stroke="#0000ff" stroke-width="1" stroke-linejoin="round"/>
<path d="M1485.8 278.5L1493.0 292.5L1478.6 292.5Z" fill="#0000ff" stroke="#0000ff" stroke-width="1" stroke-linejoin="round"/>
<path d="M1493.3 278.5L1500.5 292.5L1486.1 292.5Z" fill="#0000ff" stroke="#0000ff" stroke-width="1" stroke-linejoin="round"/>
<path d="M1514.0 268.5L1521.2 282.5L1506.8 282.5Z" fill="#0000ff" stroke="#0000ff" stroke-width="1" stroke-linejoin="round"/>
<path d="M1513.3 281.0L1520.5 295.0L1506.1 295.0Z" fill="#0000ff" stroke="#0000ff" stroke-width="1" stroke-linejoin="round"/>
<path d="M1515.8 287.3L1523.0 301.3L1508.6 301.3Z" fill="#0000ff" stroke="#0000ff" stroke-width="1" stroke-linejoin="round"/>
<path d="M1513.3 294.8L1520.5 308.8L1506.1 308.8Z" fill="#0000ff" stroke="#0000ff" stroke-width="1" stroke-linejoin="round"/>
<path d="M1519.5 294.8L1526.7 308.8L1512.3 308.8Z" fill="#0000ff" stroke="#0000ff" stroke-width="1" stroke-linejoin="round"/>
<path d="M1462.0 296.0L1469.2 310.0L1454.8 310.0Z" fill="#0000ff" stroke="#0000ff" stroke-width="1" stroke-linejoin="round"/>
<path d="M1384.5 307.3L1391.7 321.3L1377.3 321.3Z" fill="#0000ff" stroke="#0000ff" stroke-width="1" stroke-linejoin="round"/>
<path d="M1420.8 312.3L1428.0 326.3L1413.6 326.3Z" fill="#0000ff" stroke="#0000ff" stroke-width="1" stroke-linejoin="round"/>
<path d="M1432.0 317.3L1439.2 331.3L1424.8 331.3Z" fill="#0000ff" stroke="#0000ff" stroke-width="1" stroke-linejoin="round"/>
<path d="M1464.5 316.0L1471.7 330.0L1457.3 330.0Z" fill="#0000ff" stroke="#0000ff" stroke-width="1" stroke-linejoin="round"/>
<path d="M1499.5 317.3L1506.7 331.3L1492.3 331.3Z" fill="#0000ff" stroke="#0000ff" stroke-width="1" stroke-linejoin="round"/>
<path d="M1520.8 317.3L1528.0 331.3L1513.6 331.3Z" fill="#0000ff" stroke="#0000ff" stroke-width="1" stroke-linejoin="round"/>
<path d="M1420.8 321.5L1428.0 335.5L1413.6 335.5Z" fill="#0000ff" stroke="#0000ff" stroke-width="1" stroke-linejoin="round"/>
<path d="M1430.8 321.5L1438.0 335.5L1423.6 335.5Z" fill="#0000ff" stroke="#0000ff" stroke-width="1" stroke-linejoin="round"/>
<path d="M1464.5 320.3L1471.7 334.3L1457.3 334.3Z" fill="#0000ff" stroke="#0000ff" stroke-width="1" stroke-linejoin="round"/>
<path d="M1499.5 321.5L1506.7 335.5L1492.3 335.5Z" fill="#0000ff" stroke="#0000ff" stroke-width="1" stroke-linejoin="round"/>
<path d="M1514.5 322.8L1521.7 336.8L1507.3 336.8Z" fill="#0000ff" stroke="#0000ff" stroke-width="1" stroke-linejoin="round"/>
<path d="M1520.8 322.8L1528.0 336.8L1513.6 336.8Z" fill="#0000ff" stroke="#0000ff" stroke-width="1" stroke-linejoin="round"/>
<path d="M1392.0 329.0L1399.2 343.0L1384.8 343.0Z" fill="#0000ff" stroke="#0000ff" stroke-width="1" stroke-linejoin="round"/>
<path d="M1385.8 331.5L1393.0 345.5L1378.6 345.5Z" fill="#0000ff" stroke="#0000ff" stroke-width="1" stroke-linejoin="round"/>
<path d="M1399.5 337.8L1406.7 351.8L1392.3 351.8Z" fill="#0000ff" stroke="#0000ff" stroke-width="1" stroke-linejoin="round"/>
<path d="M1420.8 336.5L1428.0 350.5L1413.6 350.5Z" fill="#0000ff" stroke="#0000ff" stroke-width="1" stroke-linejoin="round"/>
<path d="M1393.3 349.0L1400.5 363.0L1386.1 363.0Z" fill="#0000ff" stroke="#0000ff" stroke-width="1" stroke-linejoin="round"/>
<path d="M1476.5 336.5L1483.7 350.5L1469.3 350.5Z" fill="#0000ff" stroke="#0000ff" stroke-width="1" stroke-linejoin="round"/>
<path d="M1482.0 345.3L1489.2 359.3L1474.8 359.3Z" fill="#0000ff" stroke="#0000ff" stroke-width="1" stroke-linejoin="round"/>
<path d="M1514.5 349.0L1521.7 363.0L1507.3 363.0Z" fill="#0000ff" stroke="#0000ff" stroke-width="1" stroke-linejoin="round"/>
<path d="M1412.0 361.5L1419.2 375.5L1404.8 375.5Z" fill="#0000ff" stroke="#0000ff" stroke-width="1" stroke-linejoin="round"/>
<path d="M1392.0 365.3L1399.2 379.3L1384.8 379.3Z" fill="#0000ff" stroke="#0000ff" stroke-width="1" stroke-linejoin="round"/>
<path d="M1410.8 367.8L1418.0 381.8L1403.6 381.8Z" fill="#0000ff" stroke="#0000ff" stroke-width="1" stroke-linejoin="round"/>
<path d="M1419.0 367.8L1426.2 381.8L1411.8 381.8Z" fill="#0000ff" stroke="#0000ff" stroke-width="1" stroke-linejoin="round"/>
<path d="M1468.8 361.5L1476.0 375.5L1461.6 375.5Z" fill="#0000ff" stroke="#0000ff" stroke-width="1" stroke-linejoin="round"/>
<path d="M1494.5 361.5L1501.7 375.5L1487.3 375.5Z" fill="#0000ff" stroke="#0000ff" stroke-width="1" stroke-linejoin="round"/>
<path d="M1504.5 361.5L1511.7 375.5L1497.3 375.5Z" fill="#0000ff" stroke="#0000ff" stroke-width="1" stroke-linejoin="round"/>
<path d="M1514.5 362.8L1521.7 376.8L1507.3 376.8Z" fill="#0000ff" stroke="#0000ff" stroke-width="1" stroke-linejoin="round"/>
<path d="M1445.8 372.8L1453.0 386.8L1438.6 386.8Z" fill="#0000ff" stroke="#0000ff" stroke-width="1" stroke-linejoin="round"/>
<path d="M1462.0 380.3L1469.2 394.3L1454.8 394.3Z" fill="#0000ff" stroke="#0000ff" stroke-width="1" stroke-linejoin="round"/>
<path d="M1487.0 374.0L1494.2 388.0L1479.8 388.0Z" fill="#0000ff" stroke="#0000ff" stroke-width="1" stroke-linejoin="round"/>
<path d="M1530.3 371.5L1537.5 385.5L1523.1 385.5Z" fill="#0000ff" stroke="#0000ff" stroke-width="1" stroke-linejoin="round"/>
<path d="M1539.5 375.3L1546.7 389.3L1532.3 389.3Z" fill="#0000ff" stroke="#0000ff" stroke-width="1" stroke-linejoin="round"/>
<path d="M1394.5 379.0L1401.7 393.0L1387.3 393.0Z" fill="#0000ff" stroke="#0000ff" stroke-width="1" stroke-linejoin="round"/>
<path d="M1412.0 377.8L1419.2 391.8L1404.8 391.8Z" fill="#0000ff" stroke="#0000ff" stroke-width="1" stroke-linejoin="round"/>
<path d="M1413.3 384.0L1420.5 398.0L1406.1 398.0Z" fill="#0000ff" stroke="#0000ff" stroke-width="1" stroke-linejoin="round"/>
<path d="M1388.3 386.5L1395.5 400.5L1381.1 400.5Z" fill="#0000ff" stroke="#0000ff" stroke-width="1" stroke-linejoin="round"/>
<path d="M1513.3 375.3L1520.5 389.3L1506.1 389.3Z" fill="#0000ff" stroke="#0000ff" stroke-width="1" stroke-linejoin="round"/>
<path d="M1513.3 382.8L1520.5 396.8L1506.1 396.8Z" fill="#0000ff" stroke="#0000ff" stroke-width="1" stroke-linejoin="round"/>
<path d="M1514.5 390.3L1521.7 404.3L1507.3 404.3Z" fill="#0000ff" stroke="#0000ff" stroke-width="1" stroke-linejoin="round"/>
<path d="M1495.8 389.0L1503.0 403.0L1488.6 403.0Z" fill="#0000ff" stroke="#0000ff" stroke-width="1" stroke-linejoin="round"/>
<path d="M1448.3 389.0L1455.5 403.0L1441.1 403.0Z" fill="#0000ff" stroke="#0000ff" stroke-width="1" stroke-linejoin="round"/>
<path d="M1513.3 397.8L1520.5 411.8L1506.1 411.8Z" fill="#0000ff" stroke="#0000ff" stroke-width="1" stroke-linejoin="round"/>
<path d="M1507.0 402.8L1514.2 416.8L1499.8 416.8Z" fill="#0000ff" stroke="#0000ff" stroke-width="1" stroke-linejoin="round"/>
<path d="M1514.5 405.3L1521.7 419.3L1507.3 419.3Z" fill="#0000ff" stroke="#0000ff" stroke-width="1" stroke-linejoin="round"/>
<path d="M1515.8 411.5L1523.0 425.5L1508.6 425.5Z" fill="#0000ff" stroke="#0000ff" stroke-width="1" stroke-linejoin="round"/>
<path d="M1420.8 402.8L1428.0 416.8L1413.6 416.8Z" fill="#0000ff" stroke="#0000ff" stroke-width="1" stroke-linejoin="round"/>
<path d="M1414.5 411.5L1421.7 425.5L1407.3 425.5Z" fill="#0000ff" stroke="#0000ff" stroke-width="1" stroke-linejoin="round"/>
<path d="M1424.5 412.8L1431.7 426.8L1417.3 426.8Z" fill="#0000ff" stroke="#0000ff" stroke-width="1" stroke-linejoin="round"/>
<path d="M1389.0 412.8L1396.2 426.8L1381.8 426.8Z" fill="#0000ff" stroke="#0000ff" stroke-width="1" stroke-linejoin="round"/>
<path d="M1472.8 419.0L1480.0 433.0L1465.6 433.0Z" fill="#0000ff" stroke="#0000ff" stroke-width="1" stroke-linejoin="round"/>
<path d="M1509.5 422.8L1516.7 436.8L1502.3 436.8Z" fill="#0000ff" stroke="#0000ff" stroke-width="1" stroke-linejoin="round"/>
<path d="M1499.5 424.0L1506.7 438.0L1492.3 438.0Z" fill="#0000ff" stroke="#0000ff" stroke-width="1" stroke-linejoin="round"/>
<path d="M1498.3 431.5L1505.5 445.5L1491.1 445.5Z" fill="#0000ff" stroke="#0000ff" stroke-width="1" stroke-linejoin="round"/>
<path d="M1514.5 439.0L1521.7 453.0L1507.3 453.0Z" fill="#0000ff" stroke="#0000ff" stroke-width="1" stroke-linejoin="round"/>
<path d="M1418.3 441.5L1425.5 455.5L1411.1 455.5Z" fill="#0000ff" stroke="#0000ff" stroke-width="1" stroke-linejoin="round"/>
<path d="M1412.0 456.5L1419.2 470.5L1404.8 470.5Z" fill="#0000ff" stroke="#0000ff" stroke-width="1" stroke-linejoin="round"/>
<path d="M1493.3 509.0L1500.5 523.0L1486.1 523.0Z" fill="#0000ff" stroke="#0000ff" stroke-width="1" stroke-linejoin="round"/>
<path d="M1566.5 570.0L1573.7 584.0L1559.3 584.0Z" fill="#0000ff" stroke="#0000ff" stroke-width="1" stroke-linejoin="round"/>
<path d="M1563.5 175.5L1570.7 189.5L1556.3 189.5Z" fill="#0000ff" stroke="#0000ff" stroke-width="1" stroke-linejoin="round"/>
<path d="M1589.8 194.8L1597.0 208.8L1582.6 208.8Z" fill="#0000ff" stroke="#0000ff" stroke-width="1" stroke-linejoin="round"/>
<path d="M1588.5 204.8L1595.7 218.8L1581.3 218.8Z" fill="#0000ff" stroke="#0000ff" stroke-width="1" stroke-linejoin="round"/>
<path d="M1589.8 212.3L1597.0 226.3L1582.6 226.3Z" fill="#0000ff" stroke="#0000ff" stroke-width="1" stroke-linejoin="round"/>
<path d="M1560.3 219.0L1567.5 233.0L1553.1 233.0Z" fill="#0000ff" stroke="#0000ff" stroke-width="1" stroke-linejoin="round"/>
<path d="M1614.0 281.0L1621.2 295.0L1606.8 295.0Z" fill="#0000ff" stroke="#0000ff" stroke-width="1" stroke-linejoin="round"/>
<path d="M1649.3 304.8L1656.5 318.8L1642.1 318.8Z" fill="#0000ff" stroke="#0000ff" stroke-width="1" stroke-linejoin="round"/>
<path d="M1563.5 322.8L1570.7 336.8L1556.3 336.8Z" fill="#0000ff" stroke="#0000ff" stroke-width="1" stroke-linejoin="round"/>
<path d="M1572.3 323.5L1579.5 337.5L1565.1 337.5Z" fill="#0000ff" stroke="#0000ff" stroke-width="1" stroke-linejoin="round"/>
<path d="M1566.0 332.8L1573.2 346.8L1558.8 346.8Z" fill="#0000ff" stroke="#0000ff" stroke-width="1" stroke-linejoin="round"/>
<path d="M1578.5 331.5L1585.7 345.5L1571.3 345.5Z" fill="#0000ff" stroke="#0000ff" stroke-width="1" stroke-linejoin="round"/>
<path d="M1586.0 341.5L1593.2 355.5L1578.8 355.5Z" fill="#0000ff" stroke="#0000ff" stroke-width="1" stroke-linejoin="round"/>
<path d="M1568.0 349.0L1575.2 363.0L1560.8 363.0Z" fill="#0000ff" stroke="#0000ff" stroke-width="1" stroke-linejoin="round"/>
<path d="M1568.0 357.8L1575.2 371.8L1560.8 371.8Z" fill="#0000ff" stroke="#0000ff" stroke-width="1" stroke-linejoin="round"/>
<path d="M1572.3 372.0L1579.5 386.0L1565.1 386.0Z" fill="#0000ff" stroke="#0000ff" stroke-width="1" stroke-linejoin="round"/>
<path d="M1608.0 369.0L1615.2 383.0L1600.8 383.0Z" fill="#0000ff" stroke="#0000ff" stroke-width="1" stroke-linejoin="round"/>
<path d="M1587.3 380.3L1594.5 394.3L1580.1 394.3Z" fill="#0000ff" stroke="#0000ff" stroke-width="1" stroke-linejoin="round"/>
<path d="M1593.5 384.5L1600.7 398.5L1586.3 398.5Z" fill="#0000ff" stroke="#0000ff" stroke-width="1" stroke-linejoin="round"/>
<path d="M1601.0 389.0L1608.2 403.0L1593.8 403.0Z" fill="#0000ff" stroke="#0000ff" stroke-width="1" stroke-linejoin="round"/>
<path d="M1564.8 392.0L1572.0 406.0L1557.6 406.0Z" fill="#0000ff" stroke="#0000ff" stroke-width="1" stroke-linejoin="round"/>
<path d="M1572.3 399.0L1579.5 413.0L1565.1 413.0Z" fill="#0000ff" stroke="#0000ff" stroke-width="1" stroke-linejoin="round"/>
<path d="M1549.8 397.8L1557.0 411.8L1542.6 411.8Z" fill="#0000ff" stroke="#0000ff" stroke-width="1" stroke-linejoin="round"/>
<path d="M1623.5 394.0L1630.7 408.0L1616.3 408.0Z" fill="#0000ff" stroke="#0000ff" stroke-width="1" stroke-linejoin="round"/>
<path d="M1652.8 404.8L1660.0 418.8L1645.6 418.8Z" fill="#0000ff" stroke="#0000ff" stroke-width="1" stroke-linejoin="round"/>
<path d="M1603.5 436.5L1610.7 450.5L1596.3 450.5Z" fill="#0000ff" stroke="#0000ff" stroke-width="1" stroke-linejoin="round"/>
<path d="M1548.5 440.3L1555.7 454.3L1541.3 454.3Z" fill="#0000ff" stroke="#0000ff" stroke-width="1" stroke-linejoin="round"/>
<path d="M1597.3 462.3L1604.5 476.3L1590.1 476.3Z" fill="#0000ff" stroke="#0000ff" stroke-width="1" stroke-linejoin="round"/>
<path d="M1499.1 438.2L1506.3 452.2L1491.9 452.2Z" fill="#0000ff" stroke="#0000ff" stroke-width="1" stroke-linejoin="round"/>
<path d="M1178.3 323.3L1180.9 326.9L1185.1 328.3L1182.5 331.9L1182.5 336.3L1178.3 335.0L1174.1 336.3L1174.1 331.9L1171.5 328.3L1175.7 326.9Z" fill="#008000" stroke="#008000" stroke-width="3.6" stroke-linejoin="round"/>
<path d="M1295.8 312.8L1298.4 316.4L1302.6 317.8L1300.0 321.4L1300.0 325.8L1295.8 324.5L1291.6 325.8L1291.6 321.4L1289.0 317.8L1293.2 316.4Z" fill="#008000" stroke="#008000" stroke-width="3.6" stroke-linejoin="round"/>
<path d="M1379.5 276.5L1382.1 280.1L1386.3 281.5L1383.7 285.1L1383.7 289.5L1379.5 288.2L1375.3 289.5L1375.3 285.1L1372.7 281.5L1376.9 280.1Z" fill="#008000" stroke="#008000" stroke-width="3.6" stroke-linejoin="round"/>
<path d="M1363.3 324.5L1365.9 328.1L1370.1 329.5L1367.5 333.1L1367.5 337.5L1363.3 336.2L1359.1 337.5L1359.1 333.1L1356.5 329.5L1360.7 328.1Z" fill="#008000" stroke="#008000" stroke-width="3.6" stroke-linejoin="round"/>
<path d="M1374.5 332.0L1377.1 335.6L1381.3 337.0L1378.7 340.6L1378.7 345.0L1374.5 343.7L1370.3 345.0L1370.3 340.6L1367.7 337.0L1371.9 335.6Z" fill="#008000" stroke="#008000" stroke-width="3.6" stroke-linejoin="round"/>
<path d="M1433.3 223.5L1435.9 227.1L1440.1 228.5L1437.5 232.1L1437.5 236.5L1433.3 235.2L1429.1 236.5L1429.1 232.1L1426.5 228.5L1430.7 227.1Z" fill="#008000" stroke="#008000" stroke-width="3.6" stroke-linejoin="round"/>
<path d="M1417.8 240.8L1420.4 244.4L1424.6 245.8L1422.0 249.4L1422.0 253.8L1417.8 252.5L1413.6 253.8L1413.6 249.4L1411.0 245.8L1415.2 244.4Z" fill="#008000" stroke="#008000" stroke-width="3.6" stroke-linejoin="round"/>
<path d="M1482.5 245.3L1485.1 248.9L1489.3 250.3L1486.7 253.9L1486.7 258.3L1482.5 257.0L1478.3 258.3L1478.3 253.9L1475.7 250.3L1479.9 248.9Z" fill="#008000" stroke="#008000" stroke-width="3.6" stroke-linejoin="round"/>
<path d="M1448.3 257.8L1450.9 261.4L1455.1 262.8L1452.5 266.4L1452.5 270.8L1448.3 269.5L1444.1 270.8L1444.1 266.4L1441.5 262.8L1445.7 261.4Z" fill="#008000" stroke="#008000" stroke-width="3.6" stroke-linejoin="round"/>
<path d="M1549.7 268.8L1552.3 272.4L1556.5 273.8L1553.9 277.4L1553.9 281.8L1549.7 280.5L1545.5 281.8L1545.5 277.4L1542.9 273.8L1547.1 272.4Z" fill="#008000" stroke="#008000" stroke-width="3.6" stroke-linejoin="round"/>
<path d="M1458.8 286.5L1461.4 290.1L1465.6 291.5L1463.0 295.1L1463.0 299.5L1458.8 298.2L1454.6 299.5L1454.6 295.1L1452.0 291.5L1456.2 290.1Z" fill="#008000" stroke="#008000" stroke-width="3.6" stroke-linejoin="round"/>
<path d="M1485.0 310.3L1487.6 313.9L1491.8 315.3L1489.2 318.9L1489.2 323.3L1485.0 322.0L1480.8 323.3L1480.8 318.9L1478.2 315.3L1482.4 313.9Z" fill="#008000" stroke="#008000" stroke-width="3.6" stroke-linejoin="round"/>
<path d="M1451.5 352.0L1454.1 355.6L1458.3 357.0L1455.7 360.6L1455.7 365.0L1451.5 363.7L1447.3 365.0L1447.3 360.6L1444.7 357.0L1448.9 355.6Z" fill="#008000" stroke="#008000" stroke-width="3.6" stroke-linejoin="round"/>
<path d="M1469.5 350.3L1472.1 353.9L1476.3 355.3L1473.7 358.9L1473.7 363.3L1469.5 362.0L1465.3 363.3L1465.3 358.9L1462.7 355.3L1466.9 353.9Z" fill="#008000" stroke="#008000" stroke-width="3.6" stroke-linejoin="round"/>
<path d="M1483.3 354.5L1485.9 358.1L1490.1 359.5L1487.5 363.1L1487.5 367.5L1483.3 366.2L1479.1 367.5L1479.1 363.1L1476.5 359.5L1480.7 358.1Z" fill="#008000" stroke="#008000" stroke-width="3.6" stroke-linejoin="round"/>
</g>
<rect x="981.5" y="4.6" width="760.2" height="571.0" fill="none" stroke="#000" stroke-width="1.9"/>
<line x1="1091.0" y1="575.6" x2="1091.0" y2="583.6" stroke="#000" stroke-width="1.9"/>
<text x="1091.0" y="608.2" font-size="20.8" text-anchor="middle">−1.5</text>
<line x1="1245.4" y1="575.6" x2="1245.4" y2="583.6" stroke="#000" stroke-width="1.9"/>
<text x="1245.4" y="608.2" font-size="20.8" text-anchor="middle">−1.0</text>
<line x1="1399.9" y1="575.6" x2="1399.9" y2="583.6" stroke="#000" stroke-width="1.9"/>
<text x="1399.9" y="608.2" font-size="20.8" text-anchor="middle">−0.5</text>
<line x1="1554.3" y1="575.6" x2="1554.3" y2="583.6" stroke="#000" stroke-width="1.9"/>
<text x="1554.3" y="608.2" font-size="20.8" text-anchor="middle">0.0</text>
<line x1="1708.7" y1="575.6" x2="1708.7" y2="583.6" stroke="#000" stroke-width="1.9"/>
<text x="1708.7" y="608.2" font-size="20.8" text-anchor="middle">0.5</text>
<line x1="973.5" y1="575.8" x2="981.5" y2="575.8" stroke="#000" stroke-width="1.9"/>
<text x="964.3" y="584.0" font-size="20.3" text-anchor="end">−<tspan dx="-1">2</tspan></text>
<line x1="973.5" y1="484.8" x2="981.5" y2="484.8" stroke="#000" stroke-width="1.9"/>
<text x="964.3" y="493.0" font-size="20.3" text-anchor="end">−<tspan dx="-1">1</tspan></text>
<line x1="973.5" y1="393.9" x2="981.5" y2="393.9" stroke="#000" stroke-width="1.9"/>
<text x="966.0" y="402.1" font-size="20.3" text-anchor="end">0</text>
<line x1="973.5" y1="302.9" x2="981.5" y2="302.9" stroke="#000" stroke-width="1.9"/>
<text x="966.0" y="311.1" font-size="20.3" text-anchor="end">1</text>
<line x1="973.5" y1="212.0" x2="981.5" y2="212.0" stroke="#000" stroke-width="1.9"/>
<text x="966.0" y="220.2" font-size="20.3" text-anchor="end">2</text>
<line x1="973.5" y1="121.0" x2="981.5" y2="121.0" stroke="#000" stroke-width="1.9"/>
<text x="966.0" y="129.2" font-size="20.3" text-anchor="end">3</text>
<line x1="973.5" y1="30.1" x2="981.5" y2="30.1" stroke="#000" stroke-width="1.9"/>
<text x="966.0" y="38.3" font-size="20.3" text-anchor="end">4</text>
<rect x="95.1" y="15.2" width="161" height="104.6" rx="3.5" fill="#fff" fill-opacity="0.8" stroke="#cccccc" stroke-width="1.6"/>
<circle cx="125.1" cy="35.8" r="6.6" fill="#ff0000"/>
<path d="M125.1 61.6L132.3 75.6L117.9 75.6Z" fill="#0000ff" stroke="#0000ff" stroke-width="1" stroke-linejoin="round"/>
<path d="M125.1 92.2L127.7 95.8L131.9 97.2L129.3 100.8L129.3 105.2L125.1 103.9L120.9 105.2L120.9 100.8L118.3 97.2L122.5 95.8Z" fill="#008000" stroke="#008000" stroke-width="3.6" stroke-linejoin="round"/>
<text x="164.5" y="41.5" font-size="21.3">FSRQs</text>
<text x="163.2" y="72.6" font-size="21.3">BL Lacs</text>
<text x="164.5" y="104.3" font-size="21.3">NLSy1s</text>
<rect x="991.7" y="15.2" width="158.3" height="104.6" rx="3.5" fill="#fff" fill-opacity="0.8" stroke="#cccccc" stroke-width="1.6"/>
<circle cx="1021.1" cy="35.8" r="5.3" fill="#ff0000"/>
<path d="M1021.1 61.6L1028.3 75.6L1013.9 75.6Z" fill="#0000ff" stroke="#0000ff" stroke-width="1" stroke-linejoin="round"/>
<path d="M1021.1 92.2L1023.7 95.8L1027.9 97.2L1025.3 100.8L1025.3 105.2L1021.1 103.9L1016.9 105.2L1016.9 100.8L1014.3 97.2L1018.5 95.8Z" fill="#008000" stroke="#008000" stroke-width="3.6" stroke-linejoin="round"/>
<text x="1060.3" y="41.5" font-size="20.9">FSRQs</text>
<text x="1059.0" y="72.6" font-size="20.9">BL Lacs</text>
<text x="1060.3" y="104.3" font-size="20.9">NLSy1s</text>
<text x="122.7" y="264.6" font-size="24.8" font-weight="bold">(a)</text>
<text x="1054.3" y="212.5" font-size="24.8" font-weight="bold">(b)</text>
<text x="470.8" y="642.8" font-size="21.65" font-weight="bold" text-anchor="middle" xml:space="preserve">log <tspan font-weight="normal" font-style="italic" dx="1.5">γ </tspan><tspan font-weight="normal" font-style="italic" dx="-5.2">− </tspan><tspan font-weight="normal" font-style="italic" dx="-0.5">ray</tspan><tspan dx="0"> luminosity (erg/s)</tspan></text>
<text x="1360.2" y="642.8" font-size="21.5" font-weight="bold" text-anchor="middle">log (Redshift)</text>
<text transform="translate(20,292) rotate(-90)" font-size="21.5" font-weight="bold" text-anchor="middle">log (Radio core-dominance)</text>
<text transform="translate(918.6,287.6) rotate(-90)" font-size="21.5" font-weight="bold" text-anchor="middle">log (Radio core-dominance)</text>
</svg></body></html>
